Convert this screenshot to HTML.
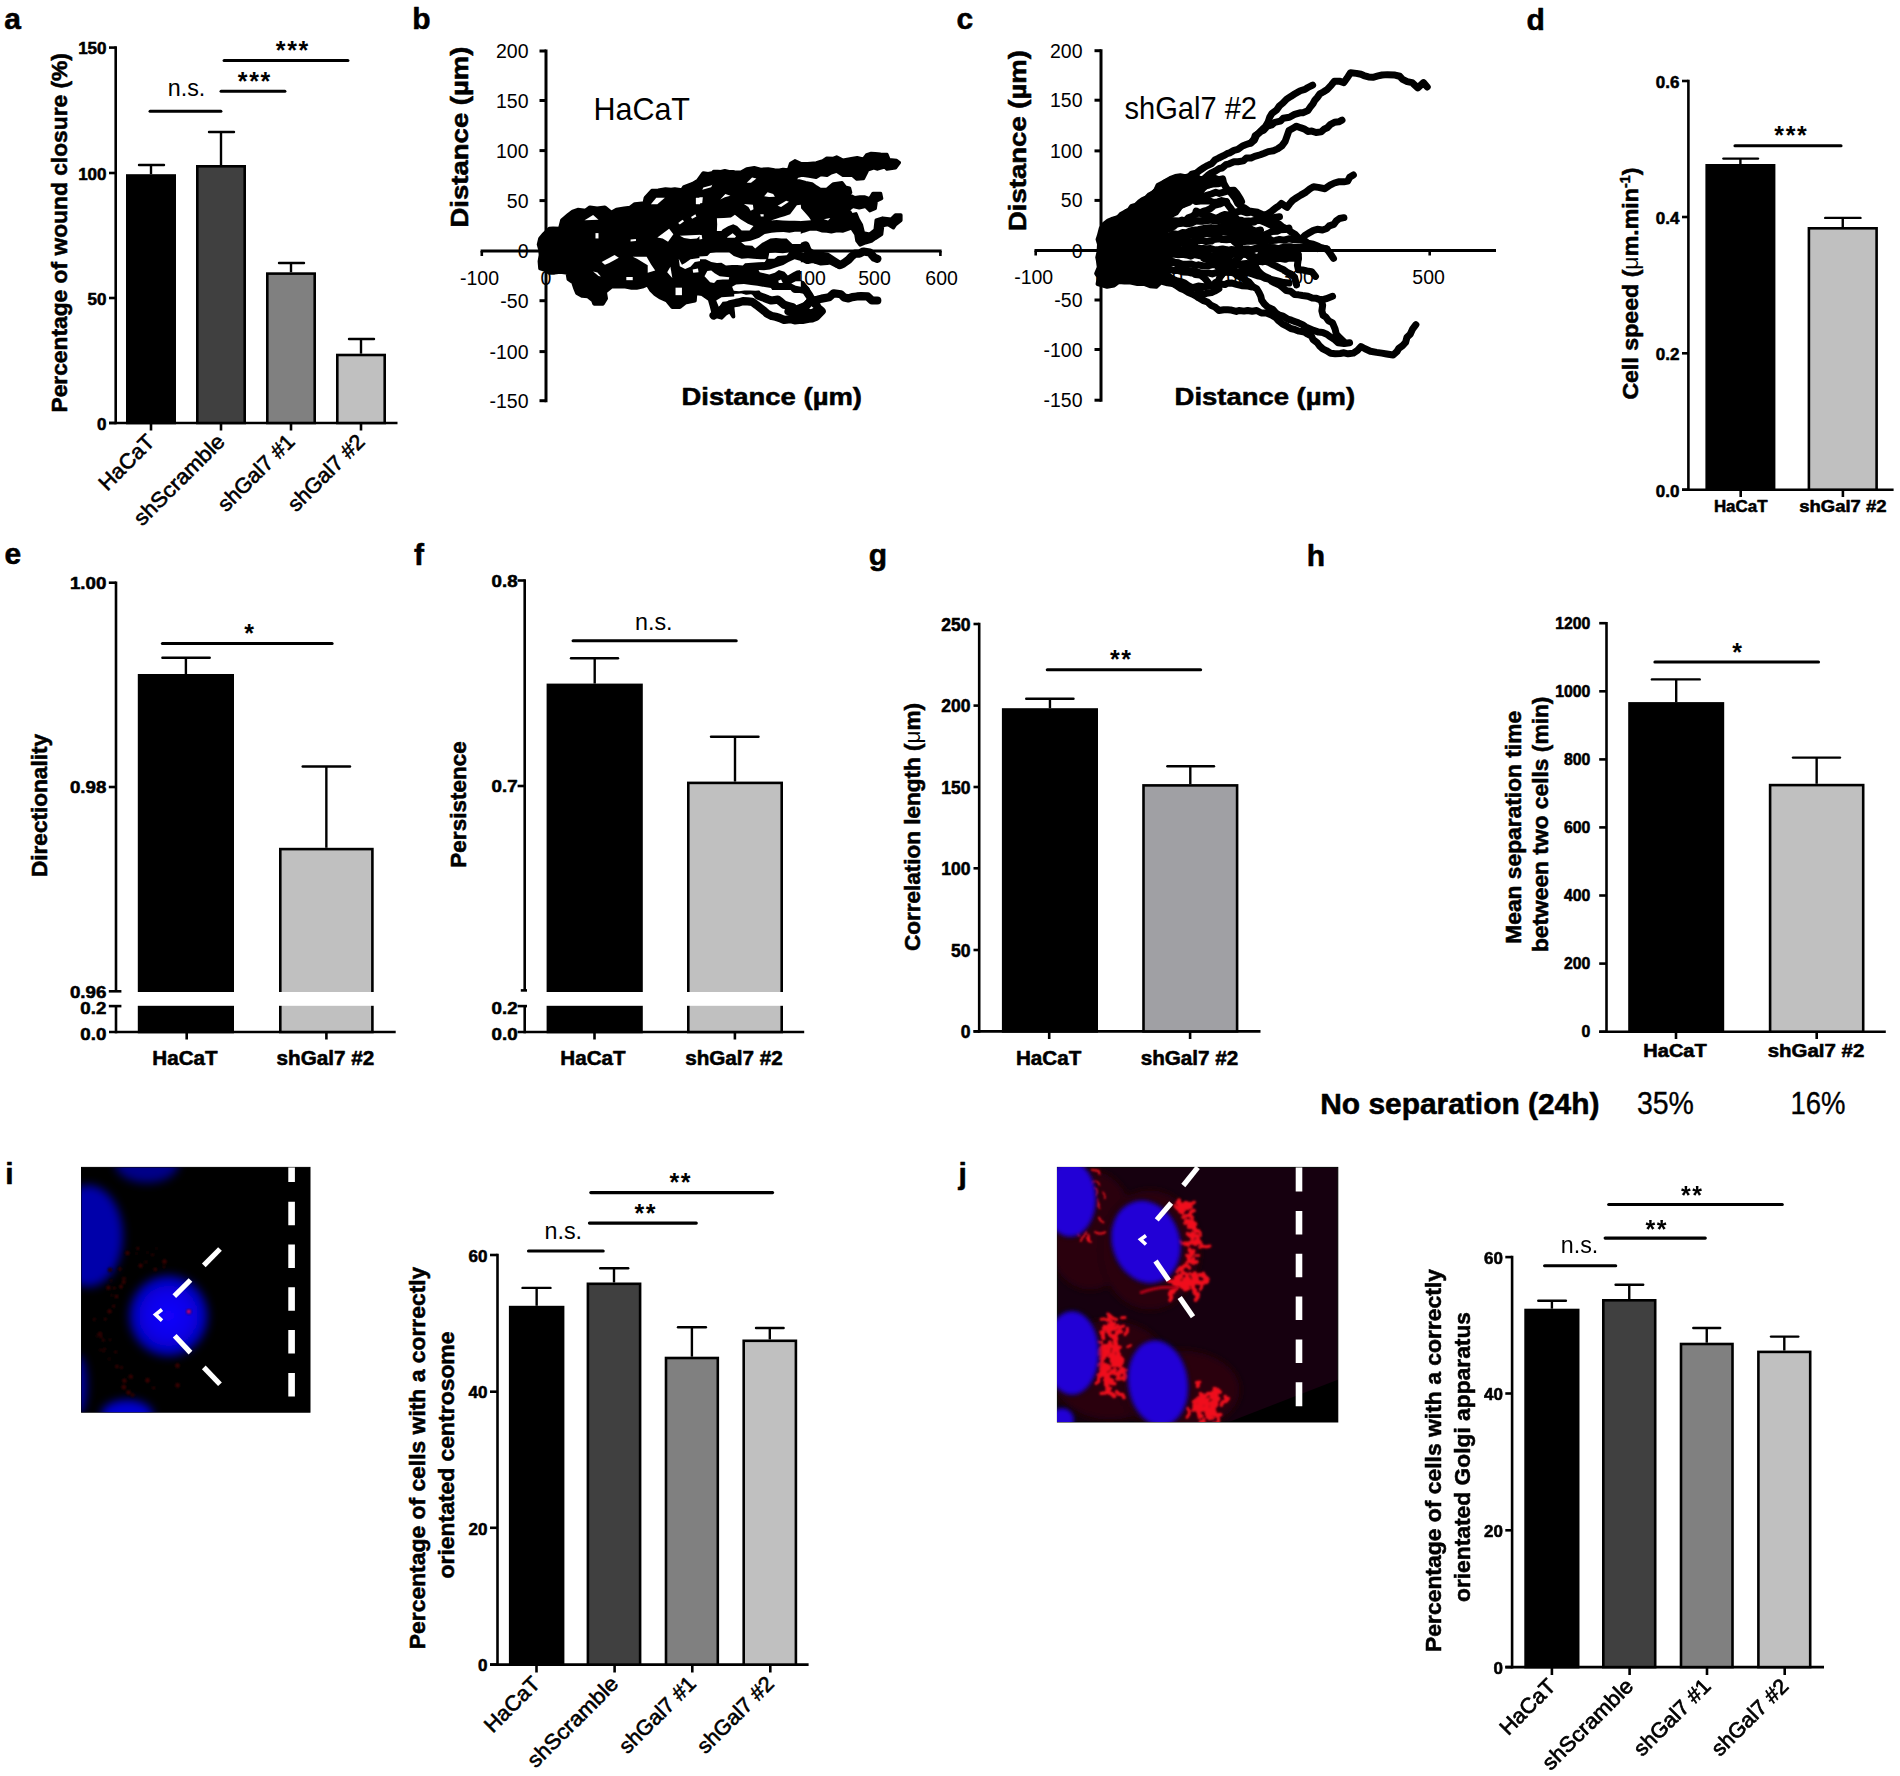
<!DOCTYPE html>
<html lang="en"><head><meta charset="utf-8"><title>Figure</title>
<style>html,body{margin:0;padding:0;background:#fff}svg{display:block}text{font-family:"Liberation Sans",sans-serif;fill:#000;stroke:none}.b{font-weight:bold;stroke:#000;stroke-width:.55px;stroke-linejoin:round}.n{font-weight:normal;stroke:none}</style></head>
<body>
<svg width="1900" height="1776" viewBox="0 0 1900 1776" stroke="#000" fill="none">
<rect width="1900" height="1776" fill="#fff" stroke="none"/>
<text x="4.3" y="29.1" font-size="30" class="b">a</text>
<line x1="115.7" y1="46.3" x2="115.7" y2="424.3" stroke-width="2.6"/>
<line x1="109" y1="423" x2="397.5" y2="423" stroke-width="2.6"/>
<line x1="109" y1="47.6" x2="115.7" y2="47.6" stroke-width="2.6"/>
<text x="106.5" y="54.3" font-size="17" text-anchor="end" class="b">150</text>
<line x1="109" y1="173" x2="115.7" y2="173" stroke-width="2.6"/>
<text x="106.5" y="179.7" font-size="17" text-anchor="end" class="b">100</text>
<line x1="109" y1="298" x2="115.7" y2="298" stroke-width="2.6"/>
<text x="106.5" y="304.7" font-size="17" text-anchor="end" class="b">50</text>
<line x1="109" y1="423" x2="115.7" y2="423" stroke-width="2.6"/>
<text x="106.5" y="429.7" font-size="17" text-anchor="end" class="b">0</text>
<line x1="151" y1="423" x2="151" y2="430.5" stroke-width="2.6"/>
<line x1="221" y1="423" x2="221" y2="430.5" stroke-width="2.6"/>
<line x1="291" y1="423" x2="291" y2="430.5" stroke-width="2.6"/>
<line x1="361" y1="423" x2="361" y2="430.5" stroke-width="2.6"/>
<line x1="151" y1="165" x2="151" y2="174.2" stroke-width="2.4"/>
<line x1="139" y1="165" x2="164" y2="165" stroke-width="2.4" stroke-linecap="round"/>
<rect x="127.3" y="175.5" width="47.4" height="247.5" fill="#000" stroke="#000" stroke-width="2.6"/>
<line x1="221" y1="132" x2="221" y2="165" stroke-width="2.4"/>
<line x1="209" y1="132" x2="234" y2="132" stroke-width="2.4" stroke-linecap="round"/>
<rect x="197.3" y="166.3" width="47.4" height="256.7" fill="#404040" stroke="#000" stroke-width="2.6"/>
<line x1="291" y1="263" x2="291" y2="272.3" stroke-width="2.4"/>
<line x1="279" y1="263" x2="304" y2="263" stroke-width="2.4" stroke-linecap="round"/>
<rect x="267.3" y="273.6" width="47.4" height="149.4" fill="#808080" stroke="#000" stroke-width="2.6"/>
<line x1="361" y1="339" x2="361" y2="353.7" stroke-width="2.4"/>
<line x1="349" y1="339" x2="374" y2="339" stroke-width="2.4" stroke-linecap="round"/>
<rect x="337.3" y="355" width="47.4" height="68" fill="#c0c0c0" stroke="#000" stroke-width="2.6"/>
<line x1="150.1" y1="111.2" x2="220.9" y2="111.2" stroke-width="3.1" stroke-linecap="round"/>
<text x="186.5" y="96" font-size="23.3" text-anchor="middle">n.s.</text>
<line x1="221.1" y1="91.2" x2="284.9" y2="91.2" stroke-width="3.1" stroke-linecap="round"/>
<text x="254" y="89.9" font-size="25" font-weight="bold" text-anchor="middle" textLength="32.3" lengthAdjust="spacing">***</text>
<line x1="224.1" y1="60.5" x2="347.9" y2="60.5" stroke-width="3.1" stroke-linecap="round"/>
<text x="292" y="58.9" font-size="25" font-weight="bold" text-anchor="middle" textLength="32.3" lengthAdjust="spacing">***</text>
<text font-size="22.7" text-anchor="middle" class="b" textLength="359.5" lengthAdjust="spacingAndGlyphs" transform="translate(67.2 232.8) rotate(-90)">Percentage of wound closure (%)</text>
<text font-size="21.3" text-anchor="end" textLength="68.96" lengthAdjust="spacingAndGlyphs" transform="translate(156 443) rotate(-45)" style="stroke:#000;stroke-width:.6px">HaCaT</text>
<text font-size="21.3" text-anchor="end" textLength="118.45" lengthAdjust="spacingAndGlyphs" transform="translate(226 443) rotate(-45)" style="stroke:#000;stroke-width:.6px">shScramble</text>
<text font-size="21.3" text-anchor="end" textLength="98.59" lengthAdjust="spacingAndGlyphs" transform="translate(296 443) rotate(-45)" style="stroke:#000;stroke-width:.6px">shGal7 #1</text>
<text font-size="21.3" text-anchor="end" textLength="98.59" lengthAdjust="spacingAndGlyphs" transform="translate(366 443) rotate(-45)" style="stroke:#000;stroke-width:.6px">shGal7 #2</text>
<text x="412.3" y="29.3" font-size="30" class="b">b</text>
<line x1="546" y1="49.5" x2="546" y2="402.2" stroke-width="3"/>
<line x1="480.6" y1="251" x2="941.6" y2="251" stroke-width="3"/>
<line x1="539.5" y1="51" x2="546" y2="51" stroke-width="3"/>
<text x="528.5" y="58" font-size="19.5" text-anchor="end">200</text>
<line x1="539.5" y1="100.5" x2="546" y2="100.5" stroke-width="3"/>
<text x="528.5" y="107.5" font-size="19.5" text-anchor="end">150</text>
<line x1="539.5" y1="150.6" x2="546" y2="150.6" stroke-width="3"/>
<text x="528.5" y="157.6" font-size="19.5" text-anchor="end">100</text>
<line x1="539.5" y1="200.6" x2="546" y2="200.6" stroke-width="3"/>
<text x="528.5" y="207.6" font-size="19.5" text-anchor="end">50</text>
<line x1="539.5" y1="251" x2="546" y2="251" stroke-width="3"/>
<text x="528.5" y="258" font-size="19.5" text-anchor="end">0</text>
<line x1="539.5" y1="300.7" x2="546" y2="300.7" stroke-width="3"/>
<text x="528.5" y="307.7" font-size="19.5" text-anchor="end">-50</text>
<line x1="539.5" y1="351.6" x2="546" y2="351.6" stroke-width="3"/>
<text x="528.5" y="358.6" font-size="19.5" text-anchor="end">-100</text>
<line x1="539.5" y1="400.7" x2="546" y2="400.7" stroke-width="3"/>
<text x="528.5" y="407.7" font-size="19.5" text-anchor="end">-150</text>
<line x1="481.8" y1="251" x2="481.8" y2="256" stroke-width="2.6"/>
<line x1="940.4" y1="251" x2="940.4" y2="256" stroke-width="2.6"/>
<text x="479.5" y="284.5" font-size="19.5" text-anchor="middle">-100</text>
<text x="546" y="284.5" font-size="19.5" text-anchor="middle">0</text>
<text x="611.9" y="284.5" font-size="19.5" text-anchor="middle">100</text>
<text x="677.8" y="284.5" font-size="19.5" text-anchor="middle">200</text>
<text x="743.7" y="284.5" font-size="19.5" text-anchor="middle">300</text>
<text x="809.6" y="284.5" font-size="19.5" text-anchor="middle">400</text>
<text x="874.5" y="284.5" font-size="19.5" text-anchor="middle">500</text>
<text x="941.6" y="284.5" font-size="19.5" text-anchor="middle">600</text>
<text x="593.4" y="120" font-size="30.5" textLength="96.6" lengthAdjust="spacingAndGlyphs">HaCaT</text>
<text x="681.5" y="405" font-size="24.3" class="b" textLength="180.5" lengthAdjust="spacingAndGlyphs">Distance (µm)</text>
<text font-size="24.3" text-anchor="middle" class="b" textLength="181" lengthAdjust="spacingAndGlyphs" transform="translate(468.3 137) rotate(-90)">Distance (µm)</text>
<g stroke="#000" stroke-linejoin="round" stroke-linecap="round">
<polygon points="540.17,268.41 539.6,261.3 540.65,255.06 540.28,250 538.75,244.46 540.17,238.45 543.91,234.17 549.26,228.82 553.13,228.61 559.96,228.82 562.1,220.26 568.52,214.91 572.8,211.7 577.85,209.85 585.64,210.63 589.93,207.42 597.17,208.46 604.91,207.42 611.33,212.77 616.54,209.74 624.17,208.49 629.93,207.78 634.87,204.21 644.5,203.14 645.57,197.78 651.99,190.83 658.23,190.39 665.5,189.16 671.11,189.84 674.82,189.18 681.95,190.29 684.09,187.08 692.65,183.87 698,180.66 703.35,173.17 708.07,173.97 712.99,173.01 719.79,172.12 724.82,170.92 730,172.1 733.32,172.1 731.91,176.32 733.89,182.19 732.72,187.85 733.17,192.1 734.26,198.54 732.5,203.3 733.4,209.42 734.05,212.7 734.85,217.31 733.06,224.52 732.2,228.82 731.84,234.55 734.16,239.41 734.52,243.74 733.94,249.8 733.57,254.51 734.41,261.23 733.23,265.5 731.91,270.78 733.79,276.87 734.35,279.76 732.95,286.15 731.79,290.65 732.26,294.7 731.91,301.95 732.13,305.44 732.97,312.59 733.32,316.57 730,311.21 725.83,313.35 721.55,317.64 714.06,315.49 711.92,306.93 709.78,299.44 702.28,294.09 695.33,293.02 694.79,300.51 685.16,302.65 679.81,306.93 672.32,306.93 666.97,300.51 659.74,297.14 655.2,294.09 650.92,289.81 647.71,284.46 642.36,286.6 636.63,287.83 631.61,287.77 623.99,286.33 618.82,286.6 611.33,286.6 604.91,291.95 605.98,298.37 602.77,303.72 594.21,303.72 593.14,300.51 587.78,296.23 581.98,295.86 577.08,293.02 574.94,287.67 573.2,282.28 568.52,279.11 567.45,272.69 560.35,271.83 554.47,272.64 549.26,272.69 545,269.79" fill="#000" stroke="#000" stroke-width="4"/>
<polygon points="584.57,220.26 593.14,214.91 598.49,219.72" fill="#fff" stroke="none"/>
<polygon points="595.49,233.1 598.49,233.1 598.49,238.45 595.49,238.45" fill="#fff" stroke="none"/>
<polygon points="630.59,239.52 635.94,238.98 635.94,241.12 630.59,241.44" fill="#fff" stroke="none"/>
<polygon points="657.34,237.38 669.11,228.82 673.39,234.17 668.04,241.66 662.69,238.45" fill="#fff" stroke="none"/>
<polygon points="679.81,235.77 701.21,234.7 696.93,238.45 690.51,238.98 684.09,237.91" fill="#fff" stroke="none"/>
<polygon points="678.21,222.93 682.49,219.72 684.09,221.33 679.81,224.54" fill="#fff" stroke="none"/>
<polygon points="691.05,217.05 695.33,214.37 696.4,216.51 692.12,218.65" fill="#fff" stroke="none"/>
<polygon points="656.27,197.78 664.83,197.78 657.34,204.21 650.92,204.21" fill="#fff" stroke="none"/>
<polygon points="702.28,189.76 711.92,187.08 720.48,183.34 716.2,182.8 710.85,185.48 703.35,187.62" fill="#fff" stroke="none"/>
<polygon points="695.86,197.78 701.21,197.78 701.21,204.21 695.86,204.21" fill="#fff" stroke="none"/>
<polygon points="721.55,198.86 737.06,193.5 737.06,196.18 723.69,201" fill="#fff" stroke="none"/>
<polygon points="601.7,261.99 614.54,255.03 618.82,257.71 609.19,263.06 604.91,264.67" fill="#fff" stroke="none"/>
<polygon points="632.73,256.64 646.64,256.64 650.92,264.13 655.2,270.55 647.71,272.69 647.71,265.2 637.01,258.78" fill="#fff" stroke="none"/>
<polygon points="593.14,271.62 598.49,275.9 600.84,276.44 597.42,272.48" fill="#fff" stroke="none"/>
<polygon points="626.31,276.97 632.73,276.97 632.73,280.18 626.31,280.18" fill="#fff" stroke="none"/>
<polygon points="675.53,287.67 681.95,287.67 681.95,295.16 675.53,295.16" fill="#fff" stroke="none"/>
<polygon points="667.19,272.16 672.32,278.04 670.4,266.81" fill="#fff" stroke="none"/>
<polygon points="678.74,258.78 681.95,264.67 685.16,263.06 690.51,259.32 701.21,257.71 711.92,258.78 737.06,260.39 737.06,262.85 711.92,261.78 703.35,260.39 694.79,261.99 690.51,266.81 685.16,268.95 679.81,266.27" fill="#fff" stroke="none"/>
<polygon points="692.65,269.48 698,268.41 698.54,272.16 693.19,272.69" fill="#fff" stroke="none"/>
<polygon points="705.49,278.04 714.06,272.69 721.55,278.04 737.06,279.11 737.06,281.47 711.92,282.54" fill="#fff" stroke="none"/>
<polygon points="716.2,300.51 721.55,297.3 737.06,296.23 737.06,300.51 722.62,301.8 718.87,306.93" fill="#fff" stroke="none"/>
<polygon points="713.58,171.57 717.66,171.43 724.32,171.98 731.63,172.46 735.88,172.35 741.4,172.1 746.75,168.89 754.24,167.82 760.66,169.43 768.15,168.89 774.44,170 779.44,170.32 783.08,169.39 788.49,169.96 790.63,163.54 794.91,160.87 801.33,163.76 807.63,163.78 816.31,163.01 822.73,160.87 826.77,158.34 833.43,158.41 836.64,157.12 843.06,160.33 852.69,158.41 857.17,157.82 863.39,159.26 866.6,154.98 871.21,153.53 875.27,153.72 880.66,154.25 886.93,154.55 889.07,159.8 896.57,160.55 899.24,162.69 895.49,167.82 886.93,168.89 884.79,166.75 877.66,168.95 873.72,167.84 867.67,169.96 863.39,178.52 856.97,179.06 852.69,175.31 843.06,175.31 836.64,171.03 831.08,172.71 827.01,175.31 820.61,174.4 816.07,177.22 808.93,175.91 801.8,174.98 797.05,176.38 793.84,180.66 799.25,181.03 805.61,182.8 811.94,183.93 816.31,187.08 820.23,189.51 827.01,189.22 833.43,183.87 841.99,182.8 845.2,187.08 849.48,188.15 850.55,192.43 848.41,194.57 854.83,197.78 859.91,197.08 864.95,197.08 869.81,198.86 873.02,193.5 880.51,193.5 881.58,198.32 876.23,201 875.16,208.49 869.81,210.63 865.53,206.35 859.2,207.78 852.69,206.35 848.41,209.56 851.62,214.91 855.9,213.84 858.04,219.19 861.25,224.54 863.39,233.1 869.81,234.17 875.16,229.89 876.23,220.26 882.65,218.12 891.21,219.19 895.49,214.91 900.85,214.91 900.85,220.26 895.49,224.54 893.35,227.75 888,224.54 882.65,225.61 881.58,234.17 875.16,238.45 871.44,241.18 865.53,242.73 860.18,244.87 856.97,240.59 855.9,234.17 851.62,227.75 843.06,230.96 836.99,230.56 831.36,231.77 827.01,230.96 821.76,230.72 816.31,228.82 809.38,229.06 803.47,230.96 799.05,232.59 793.82,232.23 788.37,232.21 781.25,231.72 776.28,230.44 771.36,232.03 764.94,235.24 757.11,236.18 752.1,238.45 746.75,241.66 739.26,236.31 733.91,232.03 728.56,236.31 722.84,240.45 719.94,243.28 713.58,247.01 714.89,243.44 714.94,236.54 712.74,231.1 712.67,226 713.95,223.06 714.6,216.77 714.04,212.7 712.33,207.26 714.81,202.59 714.33,196.65 712.62,192.55 713.08,187.56 714.99,181.31 713.28,177.94" fill="#000" stroke="#000" stroke-width="3.5"/>
<polygon points="746.75,182.8 752.1,177.45 756.38,178.52 751.03,182.8" fill="#fff" stroke="none"/>
<polygon points="764.94,194.57 770.29,192.43 775.64,193.5 767.08,196.71" fill="#fff" stroke="none"/>
<polygon points="777.78,206.35 788.49,201 789.56,203.14 779.93,207.95" fill="#fff" stroke="none"/>
<polygon points="718.93,199.93 725.35,195.64 728.56,197.78 723.21,203.14" fill="#fff" stroke="none"/>
<polygon points="744.61,206.35 751.03,208.49 752.1,212.77 745.68,209.56" fill="#fff" stroke="none"/>
<polygon points="771.36,220.26 794.91,219.72 801.33,208.49 808.82,217.05 810.96,220.26 794.91,221.54" fill="#fff" stroke="none"/>
<polygon points="823.8,219.19 830.22,218.12 828.08,220.47" fill="#fff" stroke="none"/>
<polyline points="713.58,250.22 718.76,249.52 721.96,249.56 728.46,251.22 731.28,251.36 737.92,251.04 741.4,250.75 745.68,250.87 749.79,249.59 755.31,250.75 761.26,249.78 764.94,248.08 768.22,246.71 771.36,243.26 775.49,243.98 780.71,242.21 784.21,242.73 790.84,247.01 794.42,247.05 799.19,248.08 805.61,245.4 807.96,251.29 811.51,253.53 816.31,255.36 821.08,255.8 827.01,256.64 833.43,260.92 840.06,265.2 843.35,263.51 848.41,259.85 851.38,256.65 855.05,253.64 859.42,253.54 863.39,251.5 869.81,252.57 874.31,257.71 877.3,258.78" fill="none" stroke-width="8.2"/>
<polyline points="713.58,247.01 717.67,246.58 722.14,244.23 726.42,242.73 729.69,236.76 732.84,233.1 735.55,235.55 737.36,240.24 741.4,242.73 745.25,244.45 751.22,246.43 755.31,248.08" fill="none" stroke-width="8.2"/>
<polyline points="713.58,255.03 717.8,255.17 722.99,255.9 726.55,255.45 731.52,254.86 737.42,255.5 741.4,255.57 746.26,255.87 751.81,254.79 755.8,254.62 760.26,254.75 764.94,253.96 770.18,253.24 775.64,252.36 779.87,252.42 784.68,251.27 788.49,249.36 793.83,248.47 797.19,249.79 802.14,247.53 805.61,248.08" fill="none" stroke-width="8.2"/>
<polyline points="713.58,267.34 717.31,267.47 721.83,267.25 726.47,268.55 732.81,269.36 735.94,269.2 741.4,268.95 747.14,266.22 752.1,265.2 757.3,265.84 759.99,265.32 764.7,263.73 769.22,263.27 775.75,262.09 779.93,259.32 784.11,257.72 789.95,256.08 794.91,255.03 799.53,255.94 805.61,257.71 811.49,257.63 816.31,259.85" fill="none" stroke-width="8.2"/>
<polyline points="788.49,253.43 792.9,254.36 795.89,255.17 801.33,256.64 806.62,257.03 810.27,258.52 816.31,257.71 822.35,259.38 827.01,258.78 831.41,260.89 837.71,264.13" fill="none" stroke-width="8.2"/>
<polyline points="794.91,257.71 798.08,258.81 802.92,257.68 807.56,259.98 812.79,258.84 816.31,259.85 820.82,261.39 827.01,260.92" fill="none" stroke-width="8.2"/>
<polyline points="713.58,273.76 718.39,274.46 721.87,273.13 727.94,274.22 731.1,275.67 737.09,275.56 741.4,275.05 744.68,275.75 748.92,275.62 754.13,274.21 758.65,275.47 762.8,274.3 767.6,275.81 773.5,279.11 779.93,275.05 784.27,276.45 788.49,279.11 790.76,283.22 794.91,288.96 799.18,288.78 805.61,290.03" fill="none" stroke-width="8.2"/>
<polyline points="713.58,282.32 717.94,282.12 723.83,282.35 728.03,282.35 732.84,283.39 737.29,281.97 741.87,281.69 747.85,282.71 752.1,282.32 755.64,282.26 761.71,281.38 764.94,282.32 771.06,283.76 775.64,285.53 779.91,285.62 783.95,284.12 788.49,283.39" fill="none" stroke-width="8.2"/>
<polyline points="713.58,288.74 718.85,290.22 722.83,290.18 728.52,290.03 732.84,290.03 737.43,289.66 741.4,289.14 746.26,290.6 752.1,290.03 755.08,291.64 758.24,295.7 762.8,297.3 767.97,299.32 771.36,300.51 777.78,299.66 780.47,301.61 784.21,304.79 787.99,305.87 792.77,307.15 794.91,311.21 798.36,308.94 803.47,306.93 806.64,304.94 810.96,300.73 817.44,299.77 821.66,298.59 829.15,297.3 833.64,293.24 840.92,294.31 844.05,297.46 848.41,298.37 852.23,297.07 856.97,296.45 861.12,296.16 867.67,296.45 871.95,300.51 877.3,300.51" fill="none" stroke-width="8.2"/>
<polyline points="713.58,315.49 717.8,312.65 721.42,309.8 726.42,306.93 730.05,304.34 736.05,302.87 739.08,302.36 742.98,301.19 747.62,301.42 752.1,301.8 756.59,305.08 760.66,308.22 764.48,311.27 767.08,313.57 771.88,316.08 775.64,316.78 779.66,317.97 784.21,319.99 790.36,319.15 794.73,320.33 799.19,319.99 802.37,319.99 808.69,318.69 812.59,318.33 816.31,316.78 821.66,311.21 818.12,308.17 816.31,305.01 813.64,302.6 810.96,298.59 809.01,295.09 805.61,290.03 801.33,284.68 794.91,282.54 791.9,280.8 788.49,277.19 784.64,275.51 779.93,272.91" fill="none" stroke-width="8.2"/>
<polyline points="794.91,315.49 797.83,311.52 801.16,309.45 805.61,306.93 807.33,304.53 810.96,300.51" fill="none" stroke-width="8.2"/>
<polyline points="788.49,311.21 792.91,312.95 797.35,314.5 801.33,315.49 806.29,312.88 812.03,313.24 816.31,311.21" fill="none" stroke-width="8.2"/>
<rect x="700" y="190" width="100" height="100" fill="#000" stroke="none"/>
<polygon points="716.89,218.15 723.93,217.91 730.97,217.59 734.91,214.77 740.54,219.28 747.86,223.78 753.49,226.04 749.55,230.54 741.67,230.54 737.16,226.04 733.22,224.35 728.06,226.36 722.52,229.41 721.4,231.1 716.89,231.1 717.18,224.33" fill="#fff" stroke="none"/>
<polygon points="727.03,237.3 732.66,233.36 736.04,236.17 734.91,237.86 727.59,237.86" fill="#fff" stroke="none"/>
<polygon points="741.1,242.36 750.68,240.68 759.12,237.86 764.75,233.92 771.51,232.79 776.85,232.29 783.5,231.99 789.36,232.69 794.93,231.75 800.79,231.67 800.76,238.08 800.79,244.05 792.34,244.05 786.71,238.42 781.59,238.56 776,237.92 770.38,238.42 761.94,242.93 755.18,248.56 752.36,245.74 745.05,245.18" fill="#fff" stroke="none"/>
<polygon points="699.44,256.44 707.32,255.88 710.14,253.06 716.09,252.58 723.19,252.45 729.28,252.5 733.78,255.88 741.67,258.69 747.94,258.25 753.53,258.7 760.45,259.35 766.44,259.26 764.75,262.07 758.39,262.2 751.63,262.78 745.05,263.2 742.79,265.45 737.12,264.99 732,265.09 725.9,265.45 721.4,262.64 716.9,262.88 711.26,262.07 705.63,259.26 699.44,259.26" fill="#fff" stroke="none"/>
<polygon points="769.26,253.06 775.25,252.83 782.78,253.25 788.96,252.5 786.71,255.32 777.7,255.88 774.32,258.69 768.13,258.69" fill="#fff" stroke="none"/>
<polygon points="704.5,276.15 707.32,271.08 711.26,270.52 714.64,273.33 719.71,276.15 729.28,277.27 728.72,279.53 722.74,279.53 716.89,280.09 714.08,282.91 710.14,282.34" fill="#fff" stroke="none"/>
<polygon points="758.56,269.95 763.84,270.21 769.82,269.39 776.23,267.24 783.33,264.89 788.53,262.1 794.59,259.26 800.79,260.95 800.79,269.95 796.85,270.52 792.89,272.61 787.84,275.59 784.46,271.64 778.83,269.95 774.89,272.77 769.26,274.46 759.68,272.21" fill="#fff" stroke="none"/>
<polygon points="732.09,286.85 736.04,284.59 743.92,284.03 751.06,284.89 757.43,285.72 764.65,287.09 770.95,287.97 772.64,290.79 766.76,291.27 761.52,290.22 755.39,290.78 750.38,290.55 744.45,290.6 739.11,291.2 733.78,290.79" fill="#fff" stroke="none"/>
<polygon points="791.22,283.47 795.72,281.22 800.79,281.22 800.79,286.85 795.72,285.72" fill="#fff" stroke="none"/>
<polygon points="770.95,220.41 779.95,217.59 784.42,216.2 790.09,214.21 793.88,209.25 796.85,205.2 800.79,204.64 801.3,210.34 801.27,215.27 800.79,220.97 794.67,220.73 789.45,220.85 782.72,220.54 776.64,219.98" fill="#fff" stroke="none"/>
<polygon points="764.19,196.19 767.57,192.25 773.2,193.94 774.89,196.76 769.06,196.88" fill="#fff" stroke="none"/>
<polygon points="720.27,199.57 725.34,193.94 730.41,195.63 724.77,197.32" fill="#fff" stroke="none"/>
<polygon points="743.92,204.08 752.93,204.64 753.49,209.14 750.68,210.83 748.42,206.89" fill="#fff" stroke="none"/>
<polygon points="777.7,205.77 786.15,200.7 788.96,201.82 781.08,206.89" fill="#fff" stroke="none"/>
<polygon points="699.44,197.32 702.82,197.32 702.25,202.95 699.44,203.51" fill="#fff" stroke="none"/>
<polygon points="699.44,235.05 701.69,235.05 702.25,238.99 699.44,239.55" fill="#fff" stroke="none"/>
<polygon points="760.25,214.21 763.63,214.21 763.63,216.46 760.81,216.46" fill="#fff" stroke="none"/>
<polygon points="778.27,280.65 781.08,279.53 782.77,282.91 778.83,282.91" fill="#fff" stroke="none"/>
</g>
<text x="956.5" y="28.8" font-size="30" class="b">c</text>
<line x1="1101" y1="49.2" x2="1101" y2="401.7" stroke-width="3"/>
<line x1="1034.5" y1="250.5" x2="1496" y2="250.5" stroke-width="3"/>
<line x1="1094.5" y1="50.7" x2="1101" y2="50.7" stroke-width="3"/>
<text x="1082.5" y="57.7" font-size="19.5" text-anchor="end">200</text>
<line x1="1094.5" y1="100.2" x2="1101" y2="100.2" stroke-width="3"/>
<text x="1082.5" y="107.2" font-size="19.5" text-anchor="end">150</text>
<line x1="1094.5" y1="150.9" x2="1101" y2="150.9" stroke-width="3"/>
<text x="1082.5" y="157.9" font-size="19.5" text-anchor="end">100</text>
<line x1="1094.5" y1="200.4" x2="1101" y2="200.4" stroke-width="3"/>
<text x="1082.5" y="207.4" font-size="19.5" text-anchor="end">50</text>
<line x1="1094.5" y1="250.5" x2="1101" y2="250.5" stroke-width="3"/>
<text x="1082.5" y="257.5" font-size="19.5" text-anchor="end">0</text>
<line x1="1094.5" y1="300" x2="1101" y2="300" stroke-width="3"/>
<text x="1082.5" y="307" font-size="19.5" text-anchor="end">-50</text>
<line x1="1094.5" y1="349.5" x2="1101" y2="349.5" stroke-width="3"/>
<text x="1082.5" y="356.5" font-size="19.5" text-anchor="end">-100</text>
<line x1="1094.5" y1="400.2" x2="1101" y2="400.2" stroke-width="3"/>
<text x="1082.5" y="407.2" font-size="19.5" text-anchor="end">-150</text>
<line x1="1035.7" y1="250.5" x2="1035.7" y2="255.5" stroke-width="2.6"/>
<line x1="1429.7" y1="250.5" x2="1429.7" y2="255.5" stroke-width="2.6"/>
<text x="1033.7" y="284" font-size="19.5" text-anchor="middle">-100</text>
<text x="1101" y="284" font-size="19.5" text-anchor="middle">0</text>
<text x="1166.5" y="284" font-size="19.5" text-anchor="middle">100</text>
<text x="1232" y="284" font-size="19.5" text-anchor="middle">200</text>
<text x="1297.5" y="284" font-size="19.5" text-anchor="middle">300</text>
<text x="1428.6" y="284" font-size="19.5" text-anchor="middle">500</text>
<text x="1124.5" y="119.4" font-size="30.5" textLength="132.5" lengthAdjust="spacingAndGlyphs">shGal7 #2</text>
<text x="1174.6" y="405" font-size="24.3" class="b" textLength="180.5" lengthAdjust="spacingAndGlyphs">Distance (µm)</text>
<text font-size="24.3" text-anchor="middle" class="b" textLength="181" lengthAdjust="spacingAndGlyphs" transform="translate(1025.5 140.5) rotate(-90)">Distance (µm)</text>
<g stroke="#000" stroke-linejoin="round" stroke-linecap="round">
<polygon points="1097.58,239.47 1098.83,235.72 1100.62,228.66 1103.26,224.31 1108.03,220.54 1112.74,218.62 1116.78,217.47 1122.73,214.51 1126,211.05 1131.6,208.97 1137.74,204.56 1142.29,199.75 1146.84,197.78 1151.33,193.85 1155.18,190.64 1157.57,185.06 1162,182.63 1169.91,178.19 1175.26,175.99 1180.39,175.29 1185.07,176.24 1192.32,174.56 1196.1,175.05 1200.36,178.24 1203.68,182.63 1200.06,187.99 1196.1,193.99 1191.31,196.29 1187.65,201.84 1184.72,203.1 1180.94,207.26 1176.48,213.48 1169.58,216.73 1168.48,221.33 1166.76,226.87 1166.26,232.56 1165.79,239.47 1165,244.15 1166,251.45 1166.54,255.44 1165.53,261.19 1165.42,266.05 1164.47,271.28 1165.79,277.36 1162.45,280.97 1156.31,286.83 1150.01,286.27 1144.77,284.09 1137.37,283.99 1130.36,282.6 1124.43,282.56 1118.42,282.1 1114.1,285.51 1107.05,286.83 1097.58,283.99 1098.7,276.99 1096.18,273.49 1098.77,267.21 1097.84,260.23 1097.25,257.44 1098.56,251.66 1099,244.28" fill="#000" stroke="#000" stroke-width="4"/>
<polyline points="1100.99,250.45 1101.53,245.72 1103.69,242.73 1105.85,238.77 1106.59,234.82 1107.53,230.35 1108.95,226.2 1111.44,224.12 1115.23,221.74 1119.47,217.85 1121.84,215.1 1126,212.94 1129.74,210.97 1132.17,207.34 1136.47,206 1139.67,202.91 1143.57,200.12 1146.84,198.73 1149.6,195.97 1154.07,193.65 1157.08,190.63 1158.94,187.49 1163.55,185.72 1165.79,182.63 1170.45,181.04 1175.89,181.71 1180.94,180.73 1184.57,178.35 1188.86,177.79 1191.77,174.12 1196.1,173.15 1199.57,170.47 1204.04,167.5 1207.47,165.57 1211.85,163.53 1215.06,159.93 1218.84,158 1223.57,155.72 1227.06,153.67 1229.65,152.83 1233.99,150.42 1237.85,149.43 1242.51,146 1246.23,144.57 1251.05,142.84 1254.53,139.95 1256.65,135.05 1260.52,131.47 1263.73,130.21 1267.38,126.15 1271.89,124.84 1274.8,122.42 1280.26,121.19 1283.26,118.21 1289.4,117.31 1294.62,114.42 1299.91,112.81 1302.84,112.76 1307.89,110.63 1310.75,106.38 1312.95,103.75 1314.74,100.35 1317.36,97.37 1319.86,93.85 1323.23,92.02 1326.83,89.79 1331.53,84.77 1334.41,81.26 1340.08,81.34 1343.88,82.59 1346.91,78.31 1350.52,72.74 1356.37,73.36 1360.94,74.25 1363.82,75.52 1368.51,76.9 1373,77.27 1377.99,75.96 1382.11,75.02 1387.46,74.63 1395.04,75.01 1399.62,76.25 1402.62,79.37 1407.18,81.6 1412.09,82.59 1417.78,87.89 1423.46,82.59 1427.25,86.95" fill="none" stroke-width="7"/>
<polyline points="1251.05,142.84 1254.11,138.76 1255.17,135.65 1258.62,133.36 1262.62,129.09 1265.43,126.58 1268.1,122 1269.67,117.28 1271.89,113.47 1276.59,109.92 1279.47,105.89 1282.78,103.17 1286.68,99.13 1290.83,96.42 1294.58,94.09 1300.31,90.74 1304.93,89.39 1307.89,87.51 1312.62,85.05" fill="none" stroke-width="7"/>
<polyline points="1165.79,197.78 1170.46,194.94 1172.83,193.94 1178.07,193.01 1180.94,190.2 1184.51,187.81 1188.38,186.4 1193.17,183.89 1196.1,182.63 1200.5,180.83 1204.32,178.62 1207.68,175.46 1210.9,173.26 1215.05,171.26 1219.4,168.52 1222.02,167.97 1225.91,164.7 1229.27,163.78 1233.99,161.78 1237.91,161.8 1243.29,160.87 1246.31,158.11 1251.05,158 1254.66,156.41 1260.31,154.73 1264.31,153.26 1268.2,151.64 1273.39,150.7 1277.57,148.9 1281.86,145.81 1285.15,141.32 1287.37,135.17 1288.94,130.52 1293.41,127.93 1296.52,126.17 1300.44,127.68 1304.57,129.1 1307.89,131.47 1311.8,131.09 1316.03,132.49 1321.15,131.85 1324.46,128.98 1327.26,127.78 1330.62,124.27 1334.43,122.34 1338.82,121.8 1341.99,120.1" fill="none" stroke-width="7"/>
<polyline points="1222.63,229.99 1228.34,228.25 1232.05,228.74 1237.52,227.98 1241.57,226.2 1244.44,224.37 1248.39,222.74 1253.89,222.11 1256.73,220.52 1261.38,217.9 1265.04,215.68 1267.62,213.97 1271.89,211.05 1275.94,207.73 1278.39,206.23 1281.36,203.47 1287.04,207.26 1289.64,203.84 1292.64,200.35 1296.52,197.78 1300.76,195.14 1305.99,192.1 1310.08,188.85 1313.57,186.79 1318.28,187.4 1324.94,188.69 1330.03,185.22 1334.41,183 1338.46,181.78 1343.84,181.84 1347.67,181.11 1349.64,177.28 1353.36,175.05" fill="none" stroke-width="7"/>
<polyline points="1222.63,239.47 1226.48,239.84 1231.02,239.19 1234.13,240.67 1238.69,240.11 1242.54,241.73 1246.61,241.22 1251.05,241.36 1254.82,240.92 1259.89,241.81 1262.95,239.94 1267.74,239.69 1270.36,240.81 1275.25,240.38 1279.47,239.47 1284.01,240.23 1288.86,238.79 1292.71,239.57 1298.41,239.47 1302.48,238.01 1305.17,235.16 1309.52,232.65 1313.57,230.37 1317.28,229.31 1322.45,229.96 1326.83,228.48 1329.21,225.93 1333.76,224.36 1336.31,220.9 1339.49,218.54 1343.88,217.68" fill="none" stroke-width="7"/>
<polyline points="1222.63,250.83 1227.72,251.57 1231.01,249.52 1236.11,249.98 1240.28,250.23 1244.33,249.1 1248.46,249.01 1251.91,250.05 1256.97,248.52 1260.52,248.94 1264.17,248.53 1268.98,248.29 1272.4,247.8 1277.81,248.89 1280.65,248.01 1286.3,246.75 1290.67,246.7 1294.4,247.35 1298.41,247.04 1302.73,246.93 1306.37,247.75 1310.44,248.17 1314.55,248 1317.76,248.64 1322.75,248.14 1326.83,248.94 1330.67,254.24 1333.46,258.41" fill="none" stroke-width="7"/>
<polyline points="1146.84,201.57 1149.91,197.77 1153.1,194.47 1155.57,191.96 1158.65,188.83 1162.65,184.87 1165.79,182.63 1170.48,180.53 1175.09,180.66 1179.05,178.84 1183.43,177.95 1187.77,178.59 1193.02,178.11 1197.19,179.83 1201.3,179.47 1204.58,179.8 1209.54,179.75 1214.74,178.17 1218.85,179.7 1222.63,178.84 1223.65,183.28 1226.42,188.31 1229.77,191.42 1232.89,195.44 1235.57,198.97 1237.78,203.47 1241.58,206.83 1244.78,208.05 1249.15,211.05 1253.9,211.63 1257.7,212.3 1262.68,214.76 1268.1,214.84 1272.25,218.78 1275.01,221.72 1279.47,224.31 1282.49,226.9 1287.32,229.08 1290.83,231.89 1294.99,234.27 1297.81,237.2 1300.27,239.69 1304.73,240.77 1307.89,243.26 1313.22,244.21 1318.34,246.25 1321.82,248.05 1326.83,248.94" fill="none" stroke-width="7"/>
<polyline points="1196.1,201.57 1200.32,200.93 1205.25,200.67 1209.73,201.08 1213.7,202.54 1217.93,201.9 1221.71,200.58 1226.42,201.57 1227.76,204.66 1231.19,209.02 1233.26,213.73 1234.77,216.18 1237.78,220.52 1241.41,222.41 1243.42,225.91 1246.94,228.76 1251.05,231.89 1254.28,233.57 1258.8,234.33 1262.66,236.38 1265.47,238.82 1269.99,239.47" fill="none" stroke-width="7"/>
<polyline points="1165.79,220.52 1169.39,219.82 1173.22,220.8 1178.89,221.08 1182.07,220.05 1185.4,220.81 1190.62,220.22 1194.91,220.41 1199.61,220.99 1202.35,221.33 1206.06,220.58 1210.91,219.99 1214.33,221.08 1218.36,220.62 1224.33,219.8 1226.97,220.74 1231.7,220.8 1236.43,219.87 1239.54,220.12 1243.14,221.3 1248.73,220.95 1251.29,221.21 1256.89,220.45 1260.52,220.52 1264.79,222.32 1267.55,223.52 1271.35,225.28 1275.35,228.6 1279.47,229.99" fill="none" stroke-width="7"/>
<polyline points="1162,239.47 1166.43,239.65 1170.5,237.99 1174.23,237.82 1178.74,237.49 1181.74,237.22 1187.18,235.87 1191.05,234.96 1193.85,234.9 1198.86,235.81 1202.91,234.07 1207.22,233.57 1209.98,234.22 1214.8,233.28 1218.91,233.35 1222.63,231.89 1226.78,232.36 1231.44,232.18 1235.13,231.7 1239.61,230.66 1243.1,231.08 1247.04,231.45 1251.39,229.47 1255.52,231.06 1260.52,229.99" fill="none" stroke-width="7"/>
<polyline points="1100.99,250.45 1104.04,251.92 1106.77,253.9 1111.46,257.26 1114.84,259.64 1116.94,261.53 1120.89,264.16 1125.17,266.49 1127.89,267.89 1131.24,269.88 1137.14,271.3 1139.74,271.09 1143.96,272.01 1149.64,274.83 1153.42,276.11 1157.63,276.3 1160.78,277.19 1165.79,279.25 1170.09,280.87 1173,283.52 1176.2,285.4 1180.51,288.53 1184.47,289.95 1188.52,292.52 1193.24,294.42 1196.8,296.54 1198.95,298.03 1203.55,300.64 1207.47,301.99 1210.95,305.24 1215.12,307.11 1218.84,310.52 1223.77,309.7 1227.9,309.86 1230.47,309.92 1236.2,311.47 1238.9,310.5 1244.08,311.11 1247.68,310.5 1252.21,311.18 1256.73,310.52 1261.3,312.98 1266.4,313.1 1271.89,315.25 1276.08,317.9 1278.69,320.83 1282.42,323.79 1287.44,326.44 1290.83,328.51 1295.35,329.65 1299.16,331.15 1304.4,331.95 1307.89,334.2 1311.5,336.09 1312.98,339.41 1317.21,342.73 1319.25,345.57 1322.8,348.86 1326.3,350.54 1330.62,353.15 1335.23,353.65 1340.22,353.44 1343.96,352.8 1348.12,353.83 1353.36,353.15 1357.47,350.31 1360.94,346.51 1365.01,348.76 1370.41,351.25 1376.64,352.36 1381.78,353.15 1386.71,354.02 1393.15,355.04 1397.07,351.36 1398.84,348.33 1402.62,345.57 1405.55,342.46 1406.98,337.3 1410.2,334.2 1412.53,329.12 1415.88,324.73" fill="none" stroke-width="7"/>
<polyline points="1203.68,258.41 1207.51,259.63 1210.91,261.58 1216,264.55 1218.04,266.92 1222.63,267.89 1225.62,269.55 1231.17,272.26 1234.46,273.44 1237.18,275.74 1241.57,277.36 1244.58,279.61 1248.93,282.11 1252.74,286.47 1256.73,288.73 1259.01,292.52 1260.78,296.23 1261.7,300.3 1264.31,303.88 1267.91,307.21 1272.7,309.43 1275.82,312.91 1279.47,315.25 1283.1,316.22 1287.49,319.04 1291.38,320.2 1295.33,321.67 1298.41,322.83 1302.48,324.63 1305.62,326.88 1308.98,328.35 1313.57,330.41 1318.56,332.1 1322.67,332.44 1326.83,334.2 1330.47,336.95 1334.65,339.7 1338.2,342.72 1344.23,343.58 1349.57,342.72" fill="none" stroke-width="7"/>
<polyline points="1222.63,258.41 1225.78,260.24 1230.76,261.22 1233.97,263.91 1236.86,264.56 1241.57,265.99 1244.68,268.07 1250.03,269.06 1252.14,270.69 1256.81,272.49 1260.52,273.57 1264.33,276.12 1268.76,278.16 1271.71,281.29 1275.1,283.03 1279.47,284.94 1283.04,287.83 1286.29,290.64 1290.54,291.16 1294.62,294.41 1298.59,294.84 1302.49,295.51 1307.89,296.31 1312.15,297.97 1316.43,298.36 1321.15,300.09 1326.28,298.68 1332.52,296.31" fill="none" stroke-width="7"/>
<polyline points="1321.15,300.09 1322.66,305.2 1321.85,310.8 1323.04,315.25 1325.98,317.2 1328.62,320.86 1332.52,322.83 1335.03,328.78 1336.31,334.2 1340.03,338.11 1343.88,341.78" fill="none" stroke-width="7"/>
<polyline points="1260.52,254.62 1264.18,255.55 1268.65,254.9 1273.79,255.26 1277.3,254.21 1281.67,253.87 1286.45,254.33 1290.69,254.16 1293.95,254.13 1298.41,254.62 1298.26,259.05 1297.42,265.17 1298.41,269.78 1302.4,269.9 1306.86,271 1311.67,271.67 1315.46,276.41" fill="none" stroke-width="7"/>
<polyline points="1165.79,258.41 1169.43,260.58 1173.68,261.93 1178.01,264.81 1180.06,266.65 1185.54,268.45 1187.8,270.44 1192.58,270.7 1195.12,274.47 1200.2,274.96 1203.68,277.36 1206.04,279.8 1209.46,284.23 1213.15,286.83 1215.21,282.82 1218.7,280.78 1219.59,277.67 1222.63,273.57 1226,270.97 1229.28,268.04 1232.68,264.77 1234.65,261.32 1238.48,258.26 1241.57,254.62" fill="none" stroke-width="7"/>
<polyline points="1146.84,267.89 1150.51,270.17 1154.53,270.45 1157.68,271.71 1161.98,273.07 1165.72,274.75 1169.56,276.98 1173.44,279.22 1176.17,280.69 1180.88,281.65 1184.73,283.04 1188.85,286 1192.06,287.43 1197.02,289.01 1200.16,292.41 1203.68,294.41 1206.53,293.21 1211.62,292.43 1214.71,291.11 1218.84,288.73" fill="none" stroke-width="7"/>
<polyline points="1165.79,248.94 1169.87,248.91 1174.7,248.01 1178.4,249.19 1181.7,249.66 1185.82,248.89 1190.2,249.48 1193.63,248.81 1198.11,249.05 1202.98,248.52 1207.04,248.75 1210.45,248.48 1214.52,249.89 1218.88,249.52 1222.63,248.94 1226.5,249.63 1230.65,251.22 1235.53,252.67 1238.55,253.59 1244.45,254.29 1246.99,254.86 1251.11,255.69 1257.15,257.58 1260.52,258.41 1264.62,260.88 1268.92,262.43 1272.12,264.35 1276.07,266.18 1279.47,267.89 1283.62,269.68 1287.38,272.54 1291.36,274.19 1294.62,277.36 1296.52,284.94" fill="none" stroke-width="7"/>
<polyline points="1169.58,212.94 1172.25,209.65 1176.76,209.03 1179.83,205.57 1183.48,204.04 1186.28,200.61 1189.07,198.57 1192.42,196.22 1196.1,193.99 1200.17,192.02 1202.79,188.44 1206.55,184.71 1211.26,182.63" fill="none" stroke-width="7"/>
<polyline points="1165.79,229.99 1170.2,228.25 1174.2,226.1 1176.18,224.08 1181.13,223.29 1185.69,220.47 1188.35,217.83 1192.6,216.15 1195.4,213.87 1198.9,213.31 1203.68,211.05 1206.71,210.4 1210.43,208.63 1214.31,205.34 1219.28,204.21 1223.09,202.53 1226.42,201.57" fill="none" stroke-width="7"/>
<polyline points="1100.99,250.45 1103.33,248.56 1107.9,246.28 1111.17,242.29 1114.21,241.1 1117.11,239.1 1119.94,236.72 1124.1,232.37 1125.94,231.2 1130.78,227.62 1133.01,226.47 1135.96,224.29 1139.84,220.24 1142.84,218.83 1146.22,216.59 1148.88,214.39 1152.55,211.64 1156.33,208.74 1159.08,207.03 1163.44,204.59 1165.79,201.57 1169.71,199.64 1172.49,199.49 1177.56,197.68 1180.61,195.72 1185.69,194.66 1188.72,192.1 1192.17,191.74 1195.85,189.82 1200.09,188.72 1203.68,186.42 1209.03,185.03 1212.16,184.05 1217.73,183.75 1222.63,182.63" fill="none" stroke-width="7"/>
<polyline points="1100.99,250.45 1105.22,249.04 1107.27,246.74 1112.41,244.62 1115.53,241.24 1119.69,240.12 1122.96,238.15 1125.88,234.3 1129.9,233.53 1132.79,231.25 1137.85,228.03 1140.8,226.73 1144.12,223.6 1147.3,222.5 1151.97,219.72 1154.16,218.23 1159.13,214.89 1162.35,214.03 1165.79,211.05 1170.35,209.67 1173.32,208.38 1176.53,206.17 1180.3,205.76 1184.46,204.07 1188.33,202.55 1191.61,200.19 1197.1,199.43 1199.1,198.52 1204.25,196.15 1207.66,195.1 1211.26,193.99 1215.84,192.28 1219.42,193.46 1225.63,191.69 1229.58,190.49 1233.99,190.2 1237.08,193.85 1239.94,198.32 1241.57,201.57" fill="none" stroke-width="7"/>
<polyline points="1165.79,226.2 1170.63,226.5 1173.71,224.02 1177.82,223.67 1181.79,222.78 1186.95,223.79 1190.96,223.31 1196.08,220.91 1199.67,220.95 1203.68,220.52 1207.13,220.39 1211.61,218.54 1216.59,218.27 1220.86,216.1 1224.63,214.58 1229.87,215.19 1232.6,212.23 1236.87,211.8 1241.57,211.05 1247.11,212.8 1251.72,212.03 1256.36,214.31 1260.52,214.84" fill="none" stroke-width="7"/>
<polyline points="1165.79,235.68 1170.14,235.97 1173.02,233.61 1178.48,234.53 1182.38,232.57 1186.27,232.81 1189.36,231.26 1193.72,230.19 1198.23,229.6 1201.8,228.87 1206.74,227.93 1210.88,227.62 1213.58,228.41 1218.01,227.75 1222.63,226.2 1227.57,226.35 1230.33,224.83 1234.45,225.17 1240.15,223.93 1243.58,222.72 1248.53,222.37 1252.35,221.07 1255.75,220.26 1260.52,220.52 1265.68,219.68 1269.28,219.37 1274.26,217.5 1279.47,216.73" fill="none" stroke-width="7"/>
<polyline points="1165.79,243.26 1169.16,242.53 1174.59,242.38 1177.3,242.43 1181.66,242.98 1185.31,242.86 1189.26,242.42 1194.54,240.78 1198.22,240.66 1201.84,240.22 1206.11,241.53 1211.44,241.13 1213.7,239.59 1219.36,238.85 1222.63,239.47 1227.29,238.63 1232,237.66 1235.87,237.88 1238.75,236.79 1244.34,237.41 1247.26,236.81 1252.92,235.95 1256.45,235.37 1260.52,235.68 1263.94,235.13 1269.06,232.9 1271.86,231.6 1276.98,231.34 1280.37,229.68 1285.1,229.6 1288.94,228.1" fill="none" stroke-width="7"/>
<polyline points="1165.79,254.62 1170.47,254.92 1173.31,254.03 1178.43,254.85 1182.47,254.28 1186.71,254.97 1190.83,256.16 1194.19,254.6 1199.09,255.66 1203.07,255.37 1205.76,256.64 1210.18,255.44 1214.25,256.44 1217.58,256.42 1222.63,256.52 1226.73,255.5 1230.29,254.84 1235.89,254.09 1239.11,252.73 1243.44,251.76 1247.01,250.95 1253.01,249.14 1256.34,248.16 1260.52,247.04 1265.33,246.56 1270.93,247.44 1274.09,247.67 1279.47,248.94" fill="none" stroke-width="7"/>
<polyline points="1165.79,262.2 1169.5,263.26 1173.27,262.24 1178.82,262.85 1181.66,264.08 1186.99,264.35 1191.45,263.93 1196,265.58 1198.56,264.82 1203.68,265.99 1207.88,265.78 1211.66,264.81 1216.12,264.63 1220.7,265.87 1224.03,265.08 1229.43,264.06 1233.8,265.39 1237.14,264.15 1241.57,264.1 1246.46,263.52 1249.78,263.72 1254.76,261.88 1257.89,261.24 1262.5,261.9 1267.44,261.13 1271.68,260.37 1274.36,259.08 1279.47,258.41 1285.12,259.28 1288.44,258.26 1293.94,258.14 1298.41,258.41" fill="none" stroke-width="7"/>
<polyline points="1165.79,269.78 1170.06,269.34 1174.07,270.63 1177.46,270.32 1183.57,272.02 1187.71,272.15 1191.67,273.08 1196.03,271.8 1199.75,272.68 1203.68,273.57 1208.25,272.91 1212.18,274 1216.55,272.44 1220.56,272.59 1225.63,272.09 1228.55,272.6 1232.39,272.28 1238.27,271.91 1241.57,271.67 1245.17,272.69 1249.76,273.14 1253,274.19 1257.4,275.82 1261.45,276.57 1265.11,278.26 1269.99,279.25 1275.41,280.42 1279.61,281.45 1283.6,282.52 1288.94,283.04" fill="none" stroke-width="7"/>
<polyline points="1146.84,277.36 1150.97,278.51 1155.49,279.4 1159.09,280 1163.12,281.59 1167.66,282.79 1171.13,283.38 1177.04,284.2 1180.64,285.76 1184.73,286.83 1189.04,287.81 1193.8,287.38 1198.26,285.97 1203.68,286.83 1208.48,286.17 1210.92,285.53 1215.74,285.68 1219.14,284.12 1224.9,284.6 1227.35,283.26 1232.1,283.04 1236.54,284.34 1241.81,285.64 1246.95,285.92 1251.05,286.83" fill="none" stroke-width="7"/>
<polyline points="1241.57,220.52 1245.21,224.16 1248.41,226.79 1251.62,230.41 1255.03,232.4 1258.1,235.32 1260.52,239.47 1264.21,242.8 1266.83,246.71 1270.14,248.77 1273.72,252.84 1276.52,255.01 1279.47,258.41" fill="none" stroke-width="7"/>
<polyline points="1232.1,239.47 1235.16,242.54 1238.86,245.37 1241.35,249.05 1244.5,251.74 1248.46,255.95 1251.05,258.41 1253.41,262.09 1255.15,265.6 1257.44,269.93 1260.52,273.57" fill="none" stroke-width="7"/>
<polyline points="1184.73,239.47 1188.45,241.01 1192.68,243.85 1196.08,247.25 1199.86,248.35 1202.35,252.13 1205.07,252.77 1209.73,256.04 1213.15,258.41 1218.16,260.85 1221.57,263.2 1225.69,264.13 1230.2,265.77 1233.99,267.89" fill="none" stroke-width="7"/>
<polyline points="1196.1,211.05 1199.61,212.59 1203.38,214.65 1207.82,215.16 1210.46,216.21 1214.85,217.94 1218.98,219.93 1222.63,220.52 1226.71,223.65 1228.82,227.08 1233.09,229.68 1235.32,233.78 1237.76,235.94 1241.57,239.47" fill="none" stroke-width="7"/>
</g>
<text x="1526.6" y="29.6" font-size="30" class="b">d</text>
<line x1="1688.4" y1="79.7" x2="1688.4" y2="491" stroke-width="2.6"/>
<line x1="1682" y1="489.7" x2="1893.6" y2="489.7" stroke-width="2.6"/>
<line x1="1682" y1="81" x2="1688.4" y2="81" stroke-width="2.6"/>
<text x="1679.5" y="87.9" font-size="17" text-anchor="end" class="b">0.6</text>
<line x1="1682" y1="217" x2="1688.4" y2="217" stroke-width="2.6"/>
<text x="1679.5" y="223.9" font-size="17" text-anchor="end" class="b">0.4</text>
<line x1="1682" y1="353.3" x2="1688.4" y2="353.3" stroke-width="2.6"/>
<text x="1679.5" y="360.2" font-size="17" text-anchor="end" class="b">0.2</text>
<line x1="1682" y1="489.7" x2="1688.4" y2="489.7" stroke-width="2.6"/>
<text x="1679.5" y="496.6" font-size="17" text-anchor="end" class="b">0.0</text>
<line x1="1740.7" y1="489.7" x2="1740.7" y2="497" stroke-width="2.6"/>
<line x1="1842.9" y1="489.7" x2="1842.9" y2="497" stroke-width="2.6"/>
<line x1="1740.4" y1="158.6" x2="1740.4" y2="164" stroke-width="2.4"/>
<line x1="1723.4" y1="158.6" x2="1758" y2="158.6" stroke-width="2.4" stroke-linecap="round"/>
<rect x="1706.7" y="165.3" width="67.4" height="324.4" fill="#000" stroke="#000" stroke-width="2.6"/>
<line x1="1842.75" y1="217.9" x2="1842.75" y2="227" stroke-width="2.4"/>
<line x1="1825.2" y1="217.9" x2="1860.5" y2="217.9" stroke-width="2.4" stroke-linecap="round"/>
<rect x="1808.9" y="228.3" width="67.7" height="261.4" fill="#c0c0c0" stroke="#000" stroke-width="2.6"/>
<line x1="1735" y1="145.7" x2="1841" y2="145.7" stroke-width="3.1" stroke-linecap="round"/>
<text x="1790.5" y="144.4" font-size="25" font-weight="bold" text-anchor="middle" textLength="32.3" lengthAdjust="spacing">***</text>
<text x="1740.7" y="512.4" font-size="17" text-anchor="middle" class="b" textLength="53.6" lengthAdjust="spacingAndGlyphs">HaCaT</text>
<text x="1842.9" y="512.4" font-size="17" text-anchor="middle" class="b" textLength="87.3" lengthAdjust="spacingAndGlyphs">shGal7 #2</text>
<text font-size="22.6" class="b" text-anchor="middle" textLength="232" lengthAdjust="spacingAndGlyphs" transform="translate(1638.3 283.6) rotate(-90)">Cell speed (<tspan class="n">μ</tspan>m.min<tspan font-size="14" dy="-8">-1</tspan><tspan dy="8">)</tspan></text>
<text x="4.5" y="564.3" font-size="30" class="b">e</text>
<line x1="116" y1="581.4" x2="116" y2="991.3" stroke-width="2.6"/>
<line x1="116" y1="1006.1" x2="116" y2="1033.3" stroke-width="2.6"/>
<line x1="109" y1="1032" x2="395.7" y2="1032" stroke-width="2.6"/>
<line x1="108.8" y1="582.7" x2="116" y2="582.7" stroke-width="2.6"/>
<text x="106.3" y="588.9" font-size="17" text-anchor="end" class="b" textLength="36.39" lengthAdjust="spacingAndGlyphs">1.00</text>
<line x1="108.8" y1="787" x2="116" y2="787" stroke-width="2.6"/>
<text x="106.3" y="793.2" font-size="17" text-anchor="end" class="b" textLength="36.39" lengthAdjust="spacingAndGlyphs">0.98</text>
<line x1="108.8" y1="991.3" x2="121.4" y2="991.3" stroke-width="2.6"/>
<text x="106.3" y="997.5" font-size="17" text-anchor="end" class="b" textLength="36.39" lengthAdjust="spacingAndGlyphs">0.96</text>
<line x1="108.8" y1="1006.1" x2="121.4" y2="1006.1" stroke-width="2.6"/>
<text x="106.3" y="1013.9" font-size="17" text-anchor="end" class="b" textLength="25.99" lengthAdjust="spacingAndGlyphs">0.2</text>
<text x="106.3" y="1039.8" font-size="17" text-anchor="end" class="b" textLength="25.99" lengthAdjust="spacingAndGlyphs">0.0</text>
<line x1="186.7" y1="1032" x2="186.7" y2="1039.5" stroke-width="2.6"/>
<line x1="326.4" y1="1032" x2="326.4" y2="1039.5" stroke-width="2.6"/>
<line x1="185.9" y1="657.7" x2="185.9" y2="674" stroke-width="2.4"/>
<line x1="162.4" y1="657.7" x2="209.7" y2="657.7" stroke-width="2.4" stroke-linecap="round"/>
<rect x="139.1" y="675.3" width="93.6" height="356.7" fill="#000" stroke="#000" stroke-width="2.6"/>
<line x1="326.35" y1="766.5" x2="326.35" y2="847.8" stroke-width="2.4"/>
<line x1="302.7" y1="766.5" x2="350" y2="766.5" stroke-width="2.4" stroke-linecap="round"/>
<rect x="280.3" y="849.1" width="92.1" height="182.9" fill="#c0c0c0" stroke="#000" stroke-width="2.6"/>
<rect x="124" y="992" width="260" height="13.8" fill="#fff" stroke="none"/>
<line x1="162.4" y1="643.5" x2="332.1" y2="643.5" stroke-width="3.1" stroke-linecap="round"/>
<text x="249" y="641.9" font-size="25" font-weight="bold" text-anchor="middle">*</text>
<text x="185" y="1065" font-size="20" text-anchor="middle" class="b" textLength="65.3" lengthAdjust="spacingAndGlyphs">HaCaT</text>
<text x="325.4" y="1065" font-size="20" text-anchor="middle" class="b" textLength="97.7" lengthAdjust="spacingAndGlyphs">shGal7 #2</text>
<text font-size="22.6" text-anchor="middle" class="b" textLength="143" lengthAdjust="spacingAndGlyphs" transform="translate(47.2 805.5) rotate(-90)">Directionality</text>
<text x="414" y="565" font-size="30" class="b">f</text>
<line x1="524.7" y1="579.2" x2="524.7" y2="990.4" stroke-width="2.6"/>
<line x1="524.7" y1="1006.1" x2="524.7" y2="1033.3" stroke-width="2.6"/>
<line x1="517.6" y1="1032" x2="804.2" y2="1032" stroke-width="2.6"/>
<line x1="517.6" y1="580.5" x2="524.7" y2="580.5" stroke-width="2.6"/>
<text x="517.6" y="586.7" font-size="17" text-anchor="end" class="b" textLength="25.99" lengthAdjust="spacingAndGlyphs">0.8</text>
<line x1="517.6" y1="786" x2="524.7" y2="786" stroke-width="2.6"/>
<text x="517.6" y="792.2" font-size="17" text-anchor="end" class="b" textLength="25.99" lengthAdjust="spacingAndGlyphs">0.7</text>
<line x1="520.8" y1="990.4" x2="527" y2="990.4" stroke-width="2.6"/>
<line x1="517.6" y1="1006.1" x2="527" y2="1006.1" stroke-width="2.6"/>
<text x="517.6" y="1013.9" font-size="17" text-anchor="end" class="b" textLength="25.99" lengthAdjust="spacingAndGlyphs">0.2</text>
<text x="517.6" y="1039.8" font-size="17" text-anchor="end" class="b" textLength="25.99" lengthAdjust="spacingAndGlyphs">0.0</text>
<line x1="594.5" y1="1032" x2="594.5" y2="1039.5" stroke-width="2.6"/>
<line x1="734.9" y1="1032" x2="734.9" y2="1039.5" stroke-width="2.6"/>
<line x1="594.7" y1="658.3" x2="594.7" y2="683.6" stroke-width="2.4"/>
<line x1="571" y1="658.3" x2="618" y2="658.3" stroke-width="2.4" stroke-linecap="round"/>
<rect x="547.9" y="684.9" width="93.6" height="347.1" fill="#000" stroke="#000" stroke-width="2.6"/>
<line x1="735" y1="736.8" x2="735" y2="781.6" stroke-width="2.4"/>
<line x1="711" y1="736.8" x2="758.5" y2="736.8" stroke-width="2.4" stroke-linecap="round"/>
<rect x="688.3" y="782.9" width="93.4" height="249.1" fill="#c0c0c0" stroke="#000" stroke-width="2.6"/>
<rect x="532" y="992" width="260" height="13.8" fill="#fff" stroke="none"/>
<line x1="573.1" y1="640.7" x2="736.2" y2="640.7" stroke-width="3.1" stroke-linecap="round"/>
<text x="653.8" y="630.3" font-size="23.3" text-anchor="middle">n.s.</text>
<text x="593" y="1065" font-size="20" text-anchor="middle" class="b" textLength="65.3" lengthAdjust="spacingAndGlyphs">HaCaT</text>
<text x="734" y="1065" font-size="20" text-anchor="middle" class="b" textLength="97.7" lengthAdjust="spacingAndGlyphs">shGal7 #2</text>
<text font-size="22.6" text-anchor="middle" class="b" textLength="126.3" lengthAdjust="spacingAndGlyphs" transform="translate(465.7 804.5) rotate(-90)">Persistence</text>
<text x="868.8" y="565" font-size="30" class="b">g</text>
<line x1="979.2" y1="622.7" x2="979.2" y2="1032.7" stroke-width="2.6"/>
<line x1="973.5" y1="1031.4" x2="1260.5" y2="1031.4" stroke-width="2.6"/>
<line x1="973.5" y1="624" x2="979.2" y2="624" stroke-width="2.6"/>
<text x="970.4" y="630.7" font-size="17.5" text-anchor="end" class="b">250</text>
<line x1="973.5" y1="705.6" x2="979.2" y2="705.6" stroke-width="2.6"/>
<text x="970.4" y="712.3" font-size="17.5" text-anchor="end" class="b">200</text>
<line x1="973.5" y1="787" x2="979.2" y2="787" stroke-width="2.6"/>
<text x="970.4" y="793.7" font-size="17.5" text-anchor="end" class="b">150</text>
<line x1="973.5" y1="868.3" x2="979.2" y2="868.3" stroke-width="2.6"/>
<text x="970.4" y="875" font-size="17.5" text-anchor="end" class="b">100</text>
<line x1="973.5" y1="950" x2="979.2" y2="950" stroke-width="2.6"/>
<text x="970.4" y="956.7" font-size="17.5" text-anchor="end" class="b">50</text>
<line x1="973.5" y1="1031.4" x2="979.2" y2="1031.4" stroke-width="2.6"/>
<text x="970.4" y="1038.1" font-size="17.5" text-anchor="end" class="b">0</text>
<line x1="1049.2" y1="1031.4" x2="1049.2" y2="1039" stroke-width="2.6"/>
<line x1="1190.1" y1="1031.4" x2="1190.1" y2="1039" stroke-width="2.6"/>
<line x1="1049.95" y1="698.7" x2="1049.95" y2="708.2" stroke-width="2.4"/>
<line x1="1026.2" y1="698.7" x2="1073.5" y2="698.7" stroke-width="2.4" stroke-linecap="round"/>
<rect x="1003.2" y="709.5" width="93.5" height="321.9" fill="#000" stroke="#000" stroke-width="2.6"/>
<line x1="1190.3" y1="766.2" x2="1190.3" y2="784.1" stroke-width="2.4"/>
<line x1="1167.4" y1="766.2" x2="1214" y2="766.2" stroke-width="2.4" stroke-linecap="round"/>
<rect x="1143.5" y="785.4" width="93.6" height="246" fill="#a0a0a4" stroke="#000" stroke-width="2.6"/>
<line x1="1047.3" y1="669.7" x2="1200.6" y2="669.7" stroke-width="3.1" stroke-linecap="round"/>
<text x="1120.5" y="668.4" font-size="25" font-weight="bold" text-anchor="middle" textLength="21" lengthAdjust="spacing">**</text>
<text x="1048.6" y="1065" font-size="20" text-anchor="middle" class="b" textLength="65.3" lengthAdjust="spacingAndGlyphs">HaCaT</text>
<text x="1189.5" y="1065" font-size="20" text-anchor="middle" class="b" textLength="97.7" lengthAdjust="spacingAndGlyphs">shGal7 #2</text>
<text font-size="22.6" class="b" text-anchor="middle" textLength="248" lengthAdjust="spacingAndGlyphs" transform="translate(919.5 827) rotate(-90)">Correlation length (<tspan class="n">μ</tspan>m)</text>
<text x="1306.8" y="565.5" font-size="30" class="b">h</text>
<line x1="1606.5" y1="621.9" x2="1606.5" y2="1033" stroke-width="2.6"/>
<line x1="1599.2" y1="1031.7" x2="1885.8" y2="1031.7" stroke-width="2.6"/>
<line x1="1599.2" y1="623.2" x2="1606.5" y2="623.2" stroke-width="2.6"/>
<text x="1590.3" y="628.8" font-size="15.8" text-anchor="end" class="b">1200</text>
<line x1="1599.2" y1="691.3" x2="1606.5" y2="691.3" stroke-width="2.6"/>
<text x="1590.3" y="696.9" font-size="15.8" text-anchor="end" class="b">1000</text>
<line x1="1599.2" y1="759.4" x2="1606.5" y2="759.4" stroke-width="2.6"/>
<text x="1590.3" y="765" font-size="15.8" text-anchor="end" class="b">800</text>
<line x1="1599.2" y1="827.4" x2="1606.5" y2="827.4" stroke-width="2.6"/>
<text x="1590.3" y="833" font-size="15.8" text-anchor="end" class="b">600</text>
<line x1="1599.2" y1="895.5" x2="1606.5" y2="895.5" stroke-width="2.6"/>
<text x="1590.3" y="901.1" font-size="15.8" text-anchor="end" class="b">400</text>
<line x1="1599.2" y1="963.6" x2="1606.5" y2="963.6" stroke-width="2.6"/>
<text x="1590.3" y="969.2" font-size="15.8" text-anchor="end" class="b">200</text>
<line x1="1599.2" y1="1031.7" x2="1606.5" y2="1031.7" stroke-width="2.6"/>
<text x="1590.3" y="1037.3" font-size="15.8" text-anchor="end" class="b">0</text>
<line x1="1676" y1="1031.7" x2="1676" y2="1039" stroke-width="2.6"/>
<line x1="1816.7" y1="1031.7" x2="1816.7" y2="1039" stroke-width="2.6"/>
<line x1="1676.2" y1="679.4" x2="1676.2" y2="702.1" stroke-width="2.4"/>
<line x1="1651.9" y1="679.4" x2="1699.7" y2="679.4" stroke-width="2.4" stroke-linecap="round"/>
<rect x="1629.5" y="703.4" width="93.4" height="328.3" fill="#000" stroke="#000" stroke-width="2.6"/>
<line x1="1816.65" y1="757.6" x2="1816.65" y2="783.8" stroke-width="2.4"/>
<line x1="1793" y1="757.6" x2="1840" y2="757.6" stroke-width="2.4" stroke-linecap="round"/>
<rect x="1770.1" y="785.1" width="93.1" height="246.6" fill="#c0c0c0" stroke="#000" stroke-width="2.6"/>
<line x1="1654.9" y1="662" x2="1818.5" y2="662" stroke-width="3.1" stroke-linecap="round"/>
<text x="1737" y="661.4" font-size="25" font-weight="bold" text-anchor="middle">*</text>
<text x="1675" y="1056.8" font-size="18" text-anchor="middle" class="b" textLength="63.5" lengthAdjust="spacingAndGlyphs">HaCaT</text>
<text x="1816" y="1056.8" font-size="18" text-anchor="middle" class="b" textLength="96.7" lengthAdjust="spacingAndGlyphs">shGal7 #2</text>
<text font-size="22.6" text-anchor="middle" class="b" textLength="232.8" lengthAdjust="spacingAndGlyphs" transform="translate(1520.5 827.3) rotate(-90)">Mean separation time</text>
<text font-size="22.6" text-anchor="middle" class="b" textLength="255.5" lengthAdjust="spacingAndGlyphs" transform="translate(1547.5 824.3) rotate(-90)">between two cells (min)</text>
<text x="1320.2" y="1113.7" font-size="30" class="b" textLength="279.3" lengthAdjust="spacingAndGlyphs">No separation (24h)</text>
<text x="1636.9" y="1113.7" font-size="30.5" textLength="57" lengthAdjust="spacingAndGlyphs" style="stroke:#000;stroke-width:.35px">35%</text>
<text x="1790.5" y="1113.7" font-size="30.5" textLength="55" lengthAdjust="spacingAndGlyphs" style="stroke:#000;stroke-width:.35px">16%</text>
<text x="5.2" y="1183.6" font-size="30" class="b">i</text>
<defs><clipPath id="ci"><rect x="81.5" y="1167.4" width="228.5" height="244.8"/></clipPath><filter id="b6" x="-30%" y="-30%" width="160%" height="160%"><feGaussianBlur stdDeviation="5"/></filter><filter id="b3" x="-30%" y="-30%" width="160%" height="160%"><feGaussianBlur stdDeviation="2.5"/></filter><filter id="b1" x="-30%" y="-30%" width="160%" height="160%"><feGaussianBlur stdDeviation="1"/></filter><radialGradient id="nuc"><stop offset="0" stop-color="#1400ff"/><stop offset="0.6" stop-color="#0a00e6"/><stop offset="1" stop-color="#0000a0"/></radialGradient></defs>
<rect x="81.5" y="1167.4" width="228.5" height="244.8" fill="#000"/>
<g clip-path="url(#ci)">
<g filter="url(#b6)">
<ellipse cx="88" cy="1236" rx="35" ry="51" fill="#0000aa"/>
<ellipse cx="147" cy="1163" rx="32" ry="20" fill="#000088"/>
<ellipse cx="127" cy="1415" rx="26" ry="15" fill="#0000d2"/>
<ellipse cx="78" cy="1385" rx="9" ry="30" fill="#0000a0"/>
<ellipse cx="168.5" cy="1315.8" rx="39.5" ry="40.5" fill="url(#nuc)"/>
</g>
<g filter="url(#b1)" fill="#3c0000">
<circle cx="153.6" cy="1387.92" r="1.72"/>
<circle cx="111.03" cy="1280.6" r="1.29"/>
<circle cx="147.53" cy="1380.26" r="2.59"/>
<circle cx="98.06" cy="1335.64" r="1.87"/>
<circle cx="123.99" cy="1278.86" r="2.09"/>
<circle cx="147.26" cy="1252.82" r="1.29"/>
<circle cx="152.5" cy="1254.81" r="1.62"/>
<circle cx="100" cy="1334.01" r="2.43"/>
<circle cx="137.85" cy="1248.38" r="1.75"/>
<circle cx="164.4" cy="1261.61" r="2.51"/>
<circle cx="177.39" cy="1365.68" r="2.55"/>
<circle cx="104.82" cy="1348.61" r="1.62"/>
<circle cx="105.3" cy="1319.17" r="1.69"/>
<circle cx="108.42" cy="1287.81" r="2.47"/>
<circle cx="127.4" cy="1253.09" r="2.4"/>
<circle cx="177.67" cy="1385.25" r="2.55"/>
<circle cx="140.62" cy="1265.71" r="2.36"/>
<circle cx="111.57" cy="1295.42" r="1.29"/>
<circle cx="115.73" cy="1352.01" r="1.61"/>
<circle cx="156.3" cy="1248.2" r="1.26"/>
<circle cx="120.96" cy="1286.66" r="2.21"/>
<circle cx="123.87" cy="1387.09" r="2.57"/>
<circle cx="94.26" cy="1319.36" r="1.63"/>
<circle cx="109.15" cy="1359.05" r="1.42"/>
<circle cx="128.51" cy="1392.4" r="2.46"/>
<circle cx="116.85" cy="1366.46" r="1.93"/>
<circle cx="119.99" cy="1269.04" r="1.98"/>
<circle cx="110.13" cy="1269.92" r="1.91"/>
<circle cx="103.91" cy="1351.54" r="1.53"/>
<circle cx="132.52" cy="1395.01" r="1.93"/>
<circle cx="113.74" cy="1306.18" r="1.78"/>
<circle cx="116.56" cy="1296.48" r="2.06"/>
<circle cx="123.77" cy="1282.13" r="2.08"/>
<circle cx="101.09" cy="1336.62" r="1.69"/>
<circle cx="136.35" cy="1253.63" r="1.23"/>
<circle cx="103.35" cy="1340.25" r="1.65"/>
<circle cx="121.49" cy="1367.51" r="1.72"/>
<circle cx="114.36" cy="1288.08" r="1.73"/>
<circle cx="155.34" cy="1269.35" r="2"/>
<circle cx="145.96" cy="1262.01" r="1.51"/>
<circle cx="163.96" cy="1266.84" r="1.46"/>
<circle cx="103.75" cy="1349.69" r="1.34"/>
<circle cx="130.86" cy="1376.73" r="2.37"/>
<circle cx="100.73" cy="1349.88" r="1.44"/>
<circle cx="124.34" cy="1380.8" r="2.44"/>
<circle cx="110.11" cy="1339.58" r="1.37"/>
<circle cx="109.48" cy="1311.4" r="2.33"/>
</g>
<circle cx="188.8" cy="1311.6" r="2.2" fill="#e6008c" filter="url(#b1)"/>
</g>
<g stroke="#fff" fill="none">
<line x1="291.6" y1="1167.4" x2="291.6" y2="1400" stroke-width="6.6" stroke-dasharray="14.6 19.7 23.5 19.3 23.5 19.3 23.5 19.3 23.5 19.3 23.5 100"/>
<line x1="174.3" y1="1296.2" x2="190.5" y2="1280" stroke-width="5.2"/>
<line x1="203.8" y1="1265.3" x2="220" y2="1249" stroke-width="5.2"/>
<line x1="174.7" y1="1335.8" x2="190.5" y2="1352.6" stroke-width="5.2"/>
<line x1="203.8" y1="1367.4" x2="220" y2="1384.2" stroke-width="5.2"/>
<polyline points="162,1309.5 155.5,1314.7 162,1320.6" stroke-width="3.6"/>
</g>
<line x1="497.5" y1="1253.7" x2="497.5" y2="1665.9" stroke-width="2.6"/>
<line x1="490" y1="1664.6" x2="808.6" y2="1664.6" stroke-width="2.6"/>
<line x1="490" y1="1255" x2="497.5" y2="1255" stroke-width="2.6"/>
<text x="487.5" y="1261.7" font-size="17" text-anchor="end" class="b">60</text>
<line x1="490" y1="1391.7" x2="497.5" y2="1391.7" stroke-width="2.6"/>
<text x="487.5" y="1398.4" font-size="17" text-anchor="end" class="b">40</text>
<line x1="490" y1="1527.8" x2="497.5" y2="1527.8" stroke-width="2.6"/>
<text x="487.5" y="1534.5" font-size="17" text-anchor="end" class="b">20</text>
<line x1="490" y1="1664.6" x2="497.5" y2="1664.6" stroke-width="2.6"/>
<text x="487.5" y="1671.3" font-size="17" text-anchor="end" class="b">0</text>
<line x1="536.5" y1="1664.6" x2="536.5" y2="1672.5" stroke-width="2.6"/>
<line x1="614.6" y1="1664.6" x2="614.6" y2="1672.5" stroke-width="2.6"/>
<line x1="692.3" y1="1664.6" x2="692.3" y2="1672.5" stroke-width="2.6"/>
<line x1="770.3" y1="1664.6" x2="770.3" y2="1672.5" stroke-width="2.6"/>
<line x1="536.65" y1="1287.9" x2="536.65" y2="1305.8" stroke-width="2.4"/>
<line x1="522.5" y1="1287.9" x2="550.5" y2="1287.9" stroke-width="2.4" stroke-linecap="round"/>
<rect x="510.2" y="1307.1" width="52.9" height="357.5" fill="#000" stroke="#000" stroke-width="2.6"/>
<line x1="614" y1="1268.2" x2="614" y2="1282.5" stroke-width="2.4"/>
<line x1="600.2" y1="1268.2" x2="628.2" y2="1268.2" stroke-width="2.4" stroke-linecap="round"/>
<rect x="587.9" y="1283.8" width="52.2" height="380.8" fill="#404040" stroke="#000" stroke-width="2.6"/>
<line x1="691.9" y1="1327.3" x2="691.9" y2="1356.7" stroke-width="2.4"/>
<line x1="678" y1="1327.3" x2="705.9" y2="1327.3" stroke-width="2.4" stroke-linecap="round"/>
<rect x="666" y="1358" width="51.8" height="306.6" fill="#808080" stroke="#000" stroke-width="2.6"/>
<line x1="769.8" y1="1328" x2="769.8" y2="1339.5" stroke-width="2.4"/>
<line x1="756" y1="1328" x2="783.6" y2="1328" stroke-width="2.4" stroke-linecap="round"/>
<rect x="743.7" y="1340.8" width="52.2" height="323.8" fill="#c0c0c0" stroke="#000" stroke-width="2.6"/>
<line x1="528.5" y1="1251" x2="603.2" y2="1251" stroke-width="3.1" stroke-linecap="round"/>
<text x="563.3" y="1238.5" font-size="23.3" text-anchor="middle">n.s.</text>
<line x1="589.4" y1="1223.1" x2="696.3" y2="1223.1" stroke-width="3.1" stroke-linecap="round"/>
<text x="645" y="1221.9" font-size="25" font-weight="bold" text-anchor="middle" textLength="21" lengthAdjust="spacing">**</text>
<line x1="590.8" y1="1192.6" x2="772.6" y2="1192.6" stroke-width="3.1" stroke-linecap="round"/>
<text x="680" y="1191.4" font-size="25" font-weight="bold" text-anchor="middle" textLength="21" lengthAdjust="spacing">**</text>
<text font-size="22.6" text-anchor="middle" class="b" textLength="382.5" lengthAdjust="spacingAndGlyphs" transform="translate(425 1457.9) rotate(-90)">Percentage of cells with a correctly</text>
<text font-size="22.6" text-anchor="middle" class="b" textLength="247" lengthAdjust="spacingAndGlyphs" transform="translate(454 1455) rotate(-90)">orientated centrosome</text>
<text font-size="21.3" text-anchor="end" textLength="68.96" lengthAdjust="spacingAndGlyphs" transform="translate(541.5 1685) rotate(-45)" style="stroke:#000;stroke-width:.6px">HaCaT</text>
<text font-size="21.3" text-anchor="end" textLength="118.45" lengthAdjust="spacingAndGlyphs" transform="translate(619.6 1685) rotate(-45)" style="stroke:#000;stroke-width:.6px">shScramble</text>
<text font-size="21.3" text-anchor="end" textLength="98.59" lengthAdjust="spacingAndGlyphs" transform="translate(697.3 1685) rotate(-45)" style="stroke:#000;stroke-width:.6px">shGal7 #1</text>
<text font-size="21.3" text-anchor="end" textLength="98.59" lengthAdjust="spacingAndGlyphs" transform="translate(775.3 1685) rotate(-45)" style="stroke:#000;stroke-width:.6px">shGal7 #2</text>
<text x="958.6" y="1184" font-size="30" class="b">j</text>
<defs><clipPath id="cj"><rect x="1057.4" y="1167.4" width="280.4" height="254.6"/></clipPath><filter id="b2" x="-30%" y="-30%" width="160%" height="160%"><feGaussianBlur stdDeviation="2.2"/></filter><filter id="b4" x="-30%" y="-30%" width="160%" height="160%"><feGaussianBlur stdDeviation="3.5"/></filter></defs>
<rect x="1057.4" y="1167.4" width="280.4" height="254.6" fill="#16000f"/>
<g clip-path="url(#cj)">
<polygon points="1225.69,1423.27 1337.78,1379.69 1341.9,1425.69" fill="#000" stroke="none"/>
<g filter="url(#b4)" fill="#2c000f">
<ellipse cx="1090" cy="1230" rx="45" ry="60"/>
<ellipse cx="1150" cy="1250" rx="50" ry="60"/>
<ellipse cx="1110" cy="1370" rx="60" ry="50"/>
<ellipse cx="1180" cy="1390" rx="60" ry="40"/>
</g>
<g filter="url(#b1)" stroke="#f0101e" stroke-linecap="round" stroke-linejoin="round" fill="none">
<polyline points="1188.22,1245.21 1185.41,1243.13 1181.93,1243.5 1179.08,1241.47" stroke-width="3.36"/>
<polyline points="1190.65,1260.63 1193.33,1262.88 1196.69,1261.9" stroke-width="3.9"/>
<polyline points="1199.57,1274.66 1202.85,1275.87 1205.5,1278.16 1207.37,1281.12" stroke-width="3.93"/>
<polyline points="1184.85,1206.52 1187.98,1208.08" stroke-width="3.84"/>
<polyline points="1192.62,1232.83 1192.98,1236.31 1191.99,1239.67" stroke-width="3.33"/>
<polyline points="1192.07,1227.98 1195.17,1229.61" stroke-width="3.1"/>
<polyline points="1191.3,1222.98 1188.69,1220.65 1185.29,1219.85" stroke-width="2.71"/>
<polyline points="1180.68,1204.21 1177.55,1202.64" stroke-width="4.06"/>
<polyline points="1199.64,1247.24 1203.01,1246.33 1206.47,1246.87 1209.87,1246.05" stroke-width="3.1"/>
<polyline points="1179.38,1205.66 1178.93,1209.13" stroke-width="3.73"/>
<polyline points="1176.73,1208.59 1174.89,1205.61" stroke-width="2.91"/>
<polyline points="1189.67,1273.35 1192.66,1275.16 1196.01,1276.17 1196.37,1279.65" stroke-width="2.6"/>
<polyline points="1184.38,1287.38 1187.04,1285.11" stroke-width="3.23"/>
<polyline points="1181.22,1281.98 1177.8,1282.71" stroke-width="2.83"/>
<polyline points="1201.04,1244.02 1199.3,1240.99 1195.81,1240.75" stroke-width="3.53"/>
<polyline points="1192.39,1223.94 1190.3,1221.14 1186.8,1221.02" stroke-width="3.54"/>
<polyline points="1184.92,1282.87 1185.64,1279.45 1188.53,1277.48" stroke-width="3"/>
<polyline points="1192.29,1217.61 1189.79,1215.15 1190.77,1211.8 1194.04,1210.54" stroke-width="3.57"/>
<polyline points="1196.75,1241.98 1200.04,1243.15" stroke-width="3.23"/>
<polyline points="1196.55,1241.93 1198.16,1238.82 1197.11,1235.47" stroke-width="3.75"/>
<polyline points="1183.73,1208.59 1182.43,1205.33 1179.36,1203.65 1179.11,1200.16" stroke-width="3.8"/>
<polyline points="1186.67,1205.47 1186.81,1208.97" stroke-width="2.88"/>
<polyline points="1193.66,1236.91 1190.3,1235.92 1187.55,1233.77" stroke-width="3.71"/>
<polyline points="1193.52,1258.56 1192.4,1261.87" stroke-width="3.36"/>
<polyline points="1194.86,1235.51 1191.92,1233.6" stroke-width="3.77"/>
<polyline points="1195.29,1231.26 1198.76,1230.85" stroke-width="3.19"/>
<polyline points="1185.5,1202.76 1188.64,1204.31 1190.8,1207.05" stroke-width="4.04"/>
<polyline points="1179.07,1281.82 1175.78,1280.61" stroke-width="3.52"/>
<polyline points="1189.84,1261.43 1186.49,1262.46" stroke-width="2.78"/>
<polyline points="1195.66,1224.05 1193.21,1226.54 1189.8,1227.34" stroke-width="3.53"/>
<polyline points="1196.8,1244 1195.27,1240.85" stroke-width="2.74"/>
<polyline points="1179.31,1206.86 1182.68,1205.92" stroke-width="3.58"/>
<polyline points="1177.08,1287 1175.14,1289.91 1173.07,1292.74 1169.76,1293.87" stroke-width="3.15"/>
<polyline points="1176.68,1288.13 1173.49,1289.58" stroke-width="3.67"/>
<polyline points="1185.01,1223.23 1187.4,1220.68" stroke-width="3.53"/>
<polyline points="1197.07,1230.44 1200.15,1232.11 1200.58,1235.59" stroke-width="2.66"/>
<polyline points="1187.83,1203.39 1191.28,1203.98 1194.32,1202.25" stroke-width="3.26"/>
<polyline points="1192.4,1262.57 1189.29,1260.96 1188.36,1257.58" stroke-width="3.6"/>
<polyline points="1195.83,1231.26 1194.48,1228.03 1193.7,1224.61 1191.49,1221.9" stroke-width="3.87"/>
<polyline points="1178.25,1207.78 1181.73,1208.16 1184.27,1210.56" stroke-width="3.03"/>
<polyline points="1188.81,1278.94 1190.59,1281.96" stroke-width="3.65"/>
<polyline points="1177.09,1271.58 1179.02,1268.66 1182.45,1267.94 1184.9,1265.44" stroke-width="3.74"/>
<polyline points="1186.9,1274.16 1187.09,1277.66 1184.1,1279.49" stroke-width="3.4"/>
<polyline points="1171.03,1290.97 1169.65,1294.19 1171.59,1297.11 1170.06,1300.26" stroke-width="3.76"/>
<polyline points="1182.93,1217.27 1186.09,1215.77 1189.58,1215.49" stroke-width="3.4"/>
<polyline points="1185.1,1281.15 1182.26,1283.19 1181.43,1286.59" stroke-width="3.76"/>
<polyline points="1181.34,1277.14 1178.55,1279.25 1175.48,1277.58" stroke-width="3.46"/>
<polyline points="1182.19,1274.52 1178.82,1275.47 1176.01,1277.56 1176.25,1281.05" stroke-width="3.31"/>
<polyline points="1195.55,1255.47 1199.05,1255.5" stroke-width="2.66"/>
<polyline points="1191.2,1252.81 1189.61,1249.69" stroke-width="4.2"/>
<polyline points="1175.14,1280.89 1171.7,1281.54 1168.32,1280.62" stroke-width="3.81"/>
<polyline points="1195.36,1243.92 1192.31,1242.19 1188.96,1243.18 1185.57,1244.06" stroke-width="4.05"/>
<polyline points="1188.57,1227.23 1188.76,1223.74 1191.5,1221.55 1194.65,1223.07" stroke-width="3.44"/>
<polyline points="1186.8,1255.44 1190.1,1256.6 1192.41,1253.97 1193.85,1250.78" stroke-width="3.46"/>
<polyline points="1184.4,1203.98 1187.89,1203.67" stroke-width="3.71"/>
<polyline points="1181.44,1210.67 1180.34,1207.34 1181.72,1204.12" stroke-width="3.25"/>
<polyline points="1189.16,1225.89 1192.12,1224.03 1192.36,1220.54" stroke-width="3.27"/>
<polyline points="1180.76,1206.11 1178.42,1208.71 1179.81,1211.92 1183,1213.37" stroke-width="2.96"/>
<polyline points="1189.58,1267.96 1187.03,1265.57" stroke-width="3.53"/>
<polyline points="1184.07,1284.97 1180.58,1284.79 1177.1,1284.36 1173.61,1284.46" stroke-width="3.2"/>
<polyline points="1186.75,1285.81 1185.69,1289.15" stroke-width="3.45"/>
<polyline points="1192.69,1286.11 1191.18,1282.95 1188.09,1281.32 1186.38,1278.26" stroke-width="3.9"/>
<polyline points="1195.57,1279 1196.49,1282.37" stroke-width="4.2"/>
<polyline points="1194.04,1279.91 1197.08,1281.64 1200.48,1282.49 1203.96,1282.8" stroke-width="4.11"/>
<polyline points="1184.48,1279.48 1184.01,1282.95 1186.99,1284.77 1190.44,1284.18" stroke-width="3.69"/>
<polyline points="1203.16,1273.67 1204.9,1276.7 1207.64,1278.88 1206.61,1282.22" stroke-width="3.93"/>
<polyline points="1193.87,1275.49 1197.06,1276.94 1197.66,1280.38 1198.42,1283.8" stroke-width="2.9"/>
<polyline points="1194.31,1284.44 1192.8,1287.6 1194.55,1290.63" stroke-width="2.7"/>
<polyline points="1197.31,1280 1196.72,1276.55 1195.53,1273.25" stroke-width="3.17"/>
<polyline points="1193.2,1287.62 1193.54,1284.13" stroke-width="2.89"/>
<polyline points="1184.14,1284.81 1180.85,1285.99" stroke-width="2.75"/>
<polyline points="1193.16,1276.88 1193.64,1280.35 1191.02,1282.67 1187.71,1281.54" stroke-width="3.51"/>
<polyline points="1194.4,1289.41 1194.25,1292.91 1196.95,1295.14" stroke-width="3.79"/>
<polyline points="1198.24,1293.81 1197.62,1297.25 1195.52,1300.05" stroke-width="3.83"/>
<polyline points="1192.49,1275.91 1194.29,1272.91" stroke-width="3.08"/>
<polyline points="1200.43,1289.44 1201.89,1286.25 1201.49,1282.78 1204.43,1280.87" stroke-width="3.08"/>
<polyline points="1193.08,1287.99 1195.32,1290.68" stroke-width="4.2"/>
<polyline points="1187.13,1274.73 1184.06,1273.05 1181.56,1270.6 1180.79,1267.19" stroke-width="3.01"/>
<polyline points="1190.69,1283.12 1194.18,1283.31 1197.21,1281.55" stroke-width="3.04"/>
<polyline points="1188.63,1288.3 1185.36,1289.55 1182.98,1286.99 1181.56,1283.79" stroke-width="3.9"/>
<polyline points="1119.98,1363.19 1119.24,1359.77" stroke-width="4.1"/>
<polyline points="1096.02,1383.33 1098.83,1381.24 1098.38,1377.77 1101.21,1375.7" stroke-width="3.27"/>
<polyline points="1101.02,1347.93 1098.8,1350.64 1098.34,1354.11" stroke-width="4.09"/>
<polyline points="1104.57,1326.42 1107.83,1327.7" stroke-width="3.61"/>
<polyline points="1101.43,1366.82 1103.53,1369.62 1106.99,1369.09" stroke-width="4.18"/>
<polyline points="1113.75,1349.59 1117.25,1349.36 1120,1347.2" stroke-width="3.81"/>
<polyline points="1114.28,1354.31 1112.67,1351.2 1114.73,1348.36" stroke-width="2.99"/>
<polyline points="1110.35,1346.43 1109.18,1349.73" stroke-width="2.68"/>
<polyline points="1107.2,1350.37 1104.23,1352.22 1100.9,1353.31 1097.4,1353.24" stroke-width="3.69"/>
<polyline points="1102.87,1374.41 1106.36,1374.14" stroke-width="3.77"/>
<polyline points="1111.27,1360.83 1114.53,1359.55 1117.18,1357.26 1118.24,1353.93" stroke-width="3.7"/>
<polyline points="1101.78,1342.45 1098.3,1342.13" stroke-width="3"/>
<polyline points="1127.55,1346.91 1130.69,1345.38" stroke-width="2.62"/>
<polyline points="1110.9,1356.2 1114.2,1357.36" stroke-width="2.72"/>
<polyline points="1120.64,1365.97 1120.3,1362.49 1119.83,1359.02 1118.2,1355.93" stroke-width="3.14"/>
<polyline points="1106.99,1352.34 1109.04,1349.5" stroke-width="3.92"/>
<polyline points="1117.74,1325.78 1115.65,1328.58 1112.21,1329.23 1109.14,1330.92" stroke-width="3.65"/>
<polyline points="1117.64,1350.92 1116.01,1347.81 1112.7,1346.68 1110.02,1344.43" stroke-width="3.53"/>
<polyline points="1104.55,1355.77 1101.37,1354.31 1098.13,1352.98" stroke-width="3.7"/>
<polyline points="1107.08,1381.66 1107.46,1385.14" stroke-width="3.57"/>
<polyline points="1108.04,1332.21 1106.57,1329.03 1103.21,1328.05" stroke-width="3.17"/>
<polyline points="1109.92,1335 1112.82,1336.96 1115.2,1339.53 1114.44,1342.95" stroke-width="3.7"/>
<polyline points="1109.32,1373.75 1112.41,1372.12 1115.03,1369.8" stroke-width="4.1"/>
<polyline points="1115.47,1343.65 1116.96,1346.81 1117.02,1350.31" stroke-width="3.54"/>
<polyline points="1114.51,1323.73 1111.91,1326.07 1108.42,1325.8" stroke-width="3.5"/>
<polyline points="1116.63,1379.19 1120.13,1379.19 1122.88,1377.02" stroke-width="2.69"/>
<polyline points="1114.41,1364.66 1116.57,1361.91 1119.02,1359.41" stroke-width="3.86"/>
<polyline points="1113.67,1355.74 1110.59,1354.09 1108.19,1351.54" stroke-width="2.83"/>
<polyline points="1110.71,1325.96 1110.91,1329.46" stroke-width="4.05"/>
<polyline points="1106.63,1368.97 1103.6,1370.73 1100.6,1372.53" stroke-width="3.46"/>
<polyline points="1108.86,1324.22 1112.35,1324.51 1113.46,1327.83" stroke-width="3.16"/>
<polyline points="1118.31,1352.43 1118,1355.91 1116.55,1359.1" stroke-width="3.44"/>
<polyline points="1107.65,1320.61 1104.59,1318.91 1101.11,1319.28" stroke-width="2.86"/>
<polyline points="1103.48,1331.48 1102.56,1334.86 1103.37,1338.26" stroke-width="4.15"/>
<polyline points="1117,1357.62 1120.48,1357.25 1122.65,1360 1121.55,1363.32" stroke-width="3.81"/>
<polyline points="1119.54,1354.22 1117.5,1351.38 1114.06,1350.71" stroke-width="2.95"/>
<polyline points="1112.09,1380.49 1108.95,1378.95" stroke-width="4.03"/>
<polyline points="1097.51,1374.75 1100.88,1373.79 1103.98,1375.42 1107.15,1376.89" stroke-width="3.02"/>
<polyline points="1123.64,1326.07 1120.34,1327.24 1119.46,1330.63 1116.31,1332.15" stroke-width="3.24"/>
<polyline points="1111.82,1361.46 1114.78,1359.61 1118.27,1359.95 1120.73,1362.43" stroke-width="2.69"/>
<polyline points="1125.07,1334.59 1127.22,1331.83 1127.39,1328.33" stroke-width="3.27"/>
<polyline points="1116.49,1338.79 1115,1335.62" stroke-width="3.99"/>
<polyline points="1100.38,1349.41 1103.88,1349.39 1105.53,1346.31" stroke-width="3.52"/>
<polyline points="1113.21,1362.96 1116.6,1363.81" stroke-width="2.73"/>
<polyline points="1109.51,1380.36 1111.18,1383.44 1114.67,1383.7" stroke-width="3.8"/>
<polyline points="1102.42,1346.24 1105.91,1345.96" stroke-width="4.07"/>
<polyline points="1122.8,1370.22 1124.39,1373.34 1126.02,1376.43 1124.07,1379.35" stroke-width="4.14"/>
<polyline points="1107.91,1368.8 1105.37,1366.4 1102.01,1367.38" stroke-width="2.72"/>
<polyline points="1118.07,1372.65 1120.2,1369.87 1123.67,1369.43 1127.07,1370.28" stroke-width="2.62"/>
<polyline points="1102.54,1371.76 1105.5,1373.63 1106.72,1376.91 1105.04,1379.98" stroke-width="3.95"/>
<polyline points="1107.9,1313.97 1110.67,1316.11 1113.22,1318.5 1116.59,1319.43" stroke-width="3.14"/>
<polyline points="1102.34,1368.72 1103.22,1372.11" stroke-width="2.78"/>
<polyline points="1108.8,1365.4 1105.9,1367.35 1102.46,1366.69 1099.99,1369.17" stroke-width="2.83"/>
<polyline points="1120.36,1367.14 1117.42,1365.24" stroke-width="2.66"/>
<polyline points="1099.61,1358.44 1103.05,1357.77" stroke-width="2.8"/>
<polyline points="1108.57,1355.86 1111.6,1357.62 1114.9,1356.45" stroke-width="2.93"/>
<polyline points="1117.88,1374.12 1114.44,1373.47 1111.83,1371.13" stroke-width="3.58"/>
<polyline points="1105.54,1380.91 1105.4,1384.41 1107.18,1387.42 1110.53,1388.42" stroke-width="3.09"/>
<polyline points="1102.07,1360.29 1100.68,1363.5 1097.43,1364.81" stroke-width="3.58"/>
<polyline points="1117.97,1377.75 1119.08,1374.43 1121.03,1371.52 1123.07,1368.68" stroke-width="3.52"/>
<polyline points="1116.59,1391.71 1119.04,1394.21 1122.53,1394.44 1124,1397.62" stroke-width="3.6"/>
<polyline points="1112.01,1359.11 1112.81,1362.51 1114.88,1365.34 1118.37,1365.2" stroke-width="4"/>
<polyline points="1109.42,1389.09 1108.07,1392.32 1104.65,1393.03 1101.16,1393.38" stroke-width="3.5"/>
<polyline points="1105.54,1346.78 1108.86,1345.66 1110.02,1342.36" stroke-width="3.92"/>
<polyline points="1107.16,1389.26 1108.48,1392.5 1111.73,1393.81 1114.58,1395.83" stroke-width="3.9"/>
<polyline points="1103.69,1357.18 1101.54,1354.42 1101.37,1350.92 1103.84,1348.45" stroke-width="4.05"/>
<polyline points="1102.96,1334.95 1100.88,1332.14" stroke-width="3.35"/>
<polyline points="1115.62,1365.92 1112.12,1365.76" stroke-width="2.81"/>
<polyline points="1111.64,1393.68 1113.9,1396.35" stroke-width="3.86"/>
<polyline points="1103.78,1364.07 1106.96,1365.53 1109.57,1367.86" stroke-width="3.7"/>
<polyline points="1111.63,1321.99 1109.01,1319.68 1109.02,1316.18" stroke-width="3.25"/>
<polyline points="1102.13,1361.38 1104.02,1358.43 1106.04,1355.57 1107.49,1352.39" stroke-width="2.64"/>
<polyline points="1116.25,1343.7 1115.27,1340.34 1115.09,1336.84" stroke-width="3.8"/>
<polyline points="1107.61,1374.73 1108.66,1378.07" stroke-width="2.99"/>
<polyline points="1125.05,1317.45 1121.56,1317.77" stroke-width="2.98"/>
<polyline points="1108.39,1368.94 1105.26,1370.5" stroke-width="3.77"/>
<polyline points="1115.97,1339.52 1114.15,1336.54 1110.87,1335.32 1108.82,1332.48" stroke-width="3.51"/>
<polyline points="1113.81,1347.32 1117.05,1346" stroke-width="3.52"/>
<polyline points="1104.98,1356.37 1103.13,1353.4" stroke-width="2.7"/>
<polyline points="1121.9,1331.74 1118.46,1332.38 1116.1,1334.96" stroke-width="3.09"/>
<polyline points="1199.92,1406.43 1196.42,1406.65" stroke-width="4.16"/>
<polyline points="1201.3,1405.16 1198,1406.31 1196.3,1409.37 1192.91,1410.25" stroke-width="3.17"/>
<polyline points="1201.86,1405.06 1202.21,1401.57 1203.63,1398.37 1202.52,1395.06" stroke-width="4.01"/>
<polyline points="1210.83,1405.46 1213.69,1403.44 1215.09,1400.24" stroke-width="3.27"/>
<polyline points="1212.56,1397.78 1215.68,1396.18 1216.72,1392.84" stroke-width="3.98"/>
<polyline points="1216.46,1414.54 1218.19,1417.58 1218.61,1421.06 1216.7,1423.99" stroke-width="3.2"/>
<polyline points="1197.73,1386.32 1198.21,1382.85" stroke-width="4.03"/>
<polyline points="1209.57,1410.49 1213.03,1409.96 1214.9,1412.92 1217.17,1415.58" stroke-width="3.45"/>
<polyline points="1204.46,1403.41 1201.82,1401.12 1198.8,1399.34" stroke-width="3.51"/>
<polyline points="1219.98,1429.64 1222.74,1431.79" stroke-width="3.48"/>
<polyline points="1214.06,1423.64 1217.47,1424.39" stroke-width="4.07"/>
<polyline points="1206.47,1403.63 1206.89,1400.15" stroke-width="3.49"/>
<polyline points="1202.08,1396.54 1200.29,1393.53" stroke-width="3.41"/>
<polyline points="1214.28,1391.46 1211.5,1393.59 1208,1393.53 1205.53,1396.01" stroke-width="3.57"/>
<polyline points="1207.84,1414.73 1210.46,1412.4 1211.18,1408.98 1211.82,1405.54" stroke-width="2.95"/>
<polyline points="1198.25,1398.33 1199.01,1401.75 1202.37,1402.71 1205.83,1403.24" stroke-width="4.01"/>
<polyline points="1201.71,1416.2 1199.02,1413.97 1197.83,1410.67" stroke-width="3.97"/>
<polyline points="1211.11,1404.95 1212.3,1408.24 1211.09,1411.53 1212.05,1414.89" stroke-width="2.83"/>
<polyline points="1206.07,1406.73 1203.16,1408.69 1199.68,1408.41 1197.04,1406.11" stroke-width="3.4"/>
<polyline points="1201.03,1394.33 1201.05,1397.83" stroke-width="3.71"/>
<polyline points="1214.27,1388.65 1217.61,1389.69 1220.1,1392.16" stroke-width="3.73"/>
<polyline points="1211.3,1402.61 1214.56,1401.34 1215.75,1398.05 1216.59,1394.65" stroke-width="3.79"/>
<polyline points="1213.12,1405.81 1212.77,1402.33" stroke-width="3.49"/>
<polyline points="1187.4,1408.11 1189.26,1411.08 1189,1414.57 1186.92,1417.39" stroke-width="2.97"/>
<polyline points="1206.78,1416.67 1209.81,1418.42 1213.28,1417.97" stroke-width="3.09"/>
<polyline points="1225.17,1396.52 1226.64,1399.69" stroke-width="3.64"/>
<polyline points="1214.27,1407.3 1216.45,1404.55 1216.08,1401.07 1218.49,1398.53" stroke-width="4.1"/>
<polyline points="1208.89,1413.5 1212.39,1413.3 1214.79,1410.75" stroke-width="3.48"/>
<polyline points="1209.95,1409.78 1208.59,1413.01 1207.45,1416.32" stroke-width="3.38"/>
<polyline points="1203.23,1399.48 1199.96,1400.72 1199.32,1404.16 1197.22,1406.96" stroke-width="3.18"/>
<polyline points="1206.75,1405.91 1208.1,1409.14 1208.92,1412.54" stroke-width="3.64"/>
<polyline points="1207.8,1408.58 1208.37,1412.03 1210.05,1415.1 1209.57,1418.57" stroke-width="3.76"/>
<polyline points="1208.44,1402.88 1207.3,1406.19 1204.06,1407.51" stroke-width="3.21"/>
<polyline points="1206.31,1424.52 1203.9,1421.99 1200.45,1421.36" stroke-width="2.67"/>
<polyline points="1213.67,1414.93 1217.17,1414.87 1220.66,1414.64" stroke-width="3.71"/>
<polyline points="1196.35,1402.66 1193.84,1405.1 1194,1408.59" stroke-width="2.93"/>
<polyline points="1204.46,1419.51 1201.48,1421.35 1199.31,1424.1" stroke-width="2.76"/>
<polyline points="1198.98,1413.99 1199.31,1417.48" stroke-width="3.37"/>
<polyline points="1221.36,1405.21 1222.61,1401.94 1226.04,1401.25 1228.27,1398.55" stroke-width="3.7"/>
<polyline points="1196.4,1382.43 1199.86,1381.91" stroke-width="3.02"/>
<polyline points="1208.32,1399.19 1205,1400.31 1202.41,1402.66" stroke-width="3.4"/>
<polyline points="1206.07,1409.77 1202.57,1409.67 1199.26,1410.79" stroke-width="3.74"/>
<polyline points="1193.11,1401.89 1195.93,1399.82" stroke-width="3.01"/>
<polyline points="1211.4,1397.14 1211.83,1393.67 1214.96,1392.1" stroke-width="4.06"/>
<polyline points="1205.86,1413.64 1207.64,1410.63 1208.04,1407.15" stroke-width="3.01"/>
<polyline points="1084.33,1166.98 1082.96,1163.75 1084.72,1160.73" stroke-width="1.84"/>
<polyline points="1102.87,1192.13 1104.7,1195.11 1104.89,1198.61" stroke-width="1.42"/>
<polyline points="1090.83,1163.49 1087.38,1162.89" stroke-width="2.03"/>
<polyline points="1086.94,1237.29 1087.91,1240.65 1091.11,1242.07" stroke-width="1.71"/>
<polyline points="1093.28,1187.79 1096.52,1189.12" stroke-width="1.46"/>
<polyline points="1099.52,1174.05 1098.52,1170.7 1095.03,1170.39 1091.61,1169.68" stroke-width="2.05"/>
<polyline points="1095.18,1232.15 1098.41,1233.5 1101.91,1233.49 1105.17,1232.23" stroke-width="2.09"/>
<polyline points="1099.61,1185.27 1098.05,1182.14 1094.69,1181.16 1091.54,1182.7" stroke-width="1.36"/>
<polyline points="1096.29,1188.76 1097.12,1192.16 1095.89,1195.43" stroke-width="1.73"/>
<polyline points="1091.82,1182.06 1090.18,1185.15 1086.69,1185.42" stroke-width="1.94"/>
<polyline points="1089.25,1241.4 1088.98,1237.91 1088.31,1234.48" stroke-width="1.97"/>
<polyline points="1098.64,1202.56 1097.48,1205.86 1099.82,1208.46" stroke-width="1.45"/>
<polyline points="1099.5,1205.35 1097.72,1202.33 1097.4,1198.84" stroke-width="1.38"/>
<polyline points="1086.17,1232.12 1084.48,1235.18 1082.31,1237.93 1080.71,1241.04" stroke-width="1.91"/>
<polyline points="1098.92,1217.44 1100.58,1220.52 1103.51,1222.44" stroke-width="1.85"/>
<polyline points="1079.26,1235.79 1077.03,1233.09 1078.52,1229.92 1077.04,1226.76" stroke-width="1.89"/>
</g>
<path d="M1140 1293 Q1160 1285 1178 1288" stroke="#b00018" stroke-width="3" fill="none" filter="url(#b1)"/>
<g filter="url(#b2)" fill="#2206d6">
<ellipse cx="1146" cy="1242" rx="34" ry="42" transform="rotate(-18 1146 1242)"/>
<ellipse cx="1070" cy="1199" rx="26" ry="38"/>
<ellipse cx="1072" cy="1353" rx="27" ry="42"/>
<ellipse cx="1158" cy="1383" rx="30" ry="43" transform="rotate(-8 1158 1383)"/>
<ellipse cx="1062" cy="1420" rx="12" ry="12"/>
</g>
</g>
<g stroke="#fff" fill="none">
<line x1="1299" y1="1167.4" x2="1299" y2="1410" stroke-width="6.6" stroke-dasharray="24.2 19.4 23.5 19.3 23.5 19.3 23.5 19.3 23.5 19.3 24 100"/>
<line x1="1156.7" y1="1219.9" x2="1171.2" y2="1203" stroke-width="5.2"/>
<line x1="1183.3" y1="1185.5" x2="1197.8" y2="1167.4" stroke-width="5.2"/>
<line x1="1155.5" y1="1261" x2="1168.8" y2="1280.4" stroke-width="5.2"/>
<line x1="1179.7" y1="1297.4" x2="1193" y2="1316.7" stroke-width="5.2"/>
<polyline points="1146,1235.5 1140.5,1239.5 1146,1244.5" stroke-width="3.6"/>
</g>
<line x1="1512.1" y1="1255.8" x2="1512.1" y2="1668.4" stroke-width="2.6"/>
<line x1="1505.3" y1="1667.1" x2="1824" y2="1667.1" stroke-width="2.6"/>
<line x1="1505.3" y1="1257.1" x2="1512.1" y2="1257.1" stroke-width="2.6"/>
<text x="1503" y="1263.8" font-size="17" text-anchor="end" class="b">60</text>
<line x1="1505.3" y1="1393.5" x2="1512.1" y2="1393.5" stroke-width="2.6"/>
<text x="1503" y="1400.2" font-size="17" text-anchor="end" class="b">40</text>
<line x1="1505.3" y1="1530.3" x2="1512.1" y2="1530.3" stroke-width="2.6"/>
<text x="1503" y="1537" font-size="17" text-anchor="end" class="b">20</text>
<line x1="1505.3" y1="1667.1" x2="1512.1" y2="1667.1" stroke-width="2.6"/>
<text x="1503" y="1673.8" font-size="17" text-anchor="end" class="b">0</text>
<line x1="1551.9" y1="1667.1" x2="1551.9" y2="1675" stroke-width="2.6"/>
<line x1="1629.6" y1="1667.1" x2="1629.6" y2="1675" stroke-width="2.6"/>
<line x1="1707" y1="1667.1" x2="1707" y2="1675" stroke-width="2.6"/>
<line x1="1784.7" y1="1667.1" x2="1784.7" y2="1675" stroke-width="2.6"/>
<line x1="1551.9" y1="1300.8" x2="1551.9" y2="1308.7" stroke-width="2.4"/>
<line x1="1538.3" y1="1300.8" x2="1565.9" y2="1300.8" stroke-width="2.4" stroke-linecap="round"/>
<rect x="1525.6" y="1310" width="52.6" height="357.1" fill="#000" stroke="#000" stroke-width="2.6"/>
<line x1="1629.25" y1="1284.7" x2="1629.25" y2="1299" stroke-width="2.4"/>
<line x1="1615.6" y1="1284.7" x2="1643.2" y2="1284.7" stroke-width="2.4" stroke-linecap="round"/>
<rect x="1603.3" y="1300.3" width="51.9" height="366.8" fill="#404040" stroke="#000" stroke-width="2.6"/>
<line x1="1706.75" y1="1328" x2="1706.75" y2="1342.7" stroke-width="2.4"/>
<line x1="1693.3" y1="1328" x2="1720.2" y2="1328" stroke-width="2.4" stroke-linecap="round"/>
<rect x="1681" y="1344" width="51.5" height="323.1" fill="#808080" stroke="#000" stroke-width="2.6"/>
<line x1="1784.3" y1="1336.6" x2="1784.3" y2="1350.6" stroke-width="2.4"/>
<line x1="1771" y1="1336.6" x2="1798.3" y2="1336.6" stroke-width="2.4" stroke-linecap="round"/>
<rect x="1758.4" y="1351.9" width="51.8" height="315.2" fill="#c0c0c0" stroke="#000" stroke-width="2.6"/>
<line x1="1544.6" y1="1265.7" x2="1615.7" y2="1265.7" stroke-width="3.1" stroke-linecap="round"/>
<text x="1579.5" y="1252.8" font-size="23.3" text-anchor="middle">n.s.</text>
<line x1="1605.1" y1="1238.1" x2="1705.3" y2="1238.1" stroke-width="3.1" stroke-linecap="round"/>
<text x="1656.1" y="1237.9" font-size="25" font-weight="bold" text-anchor="middle" textLength="21" lengthAdjust="spacing">**</text>
<line x1="1608.7" y1="1204.5" x2="1782.3" y2="1204.5" stroke-width="3.1" stroke-linecap="round"/>
<text x="1691.5" y="1203.9" font-size="25" font-weight="bold" text-anchor="middle" textLength="21" lengthAdjust="spacing">**</text>
<text font-size="22.6" text-anchor="middle" class="b" textLength="383" lengthAdjust="spacingAndGlyphs" transform="translate(1440.5 1460.5) rotate(-90)">Percentage of cells with a correctly</text>
<text font-size="22.6" text-anchor="middle" class="b" textLength="290" lengthAdjust="spacingAndGlyphs" transform="translate(1470 1457) rotate(-90)">orientated Golgi apparatus</text>
<text font-size="21.3" text-anchor="end" textLength="68.96" lengthAdjust="spacingAndGlyphs" transform="translate(1556.9 1687.5) rotate(-45)" style="stroke:#000;stroke-width:.7px">HaCaT</text>
<text font-size="21.3" text-anchor="end" textLength="118.45" lengthAdjust="spacingAndGlyphs" transform="translate(1634.6 1687.5) rotate(-45)" style="stroke:#000;stroke-width:.7px">shScramble</text>
<text font-size="21.3" text-anchor="end" textLength="98.59" lengthAdjust="spacingAndGlyphs" transform="translate(1712 1687.5) rotate(-45)" style="stroke:#000;stroke-width:.7px">shGal7 #1</text>
<text font-size="21.3" text-anchor="end" textLength="98.59" lengthAdjust="spacingAndGlyphs" transform="translate(1789.7 1687.5) rotate(-45)" style="stroke:#000;stroke-width:.7px">shGal7 #2</text>
</svg>
</body></html>
